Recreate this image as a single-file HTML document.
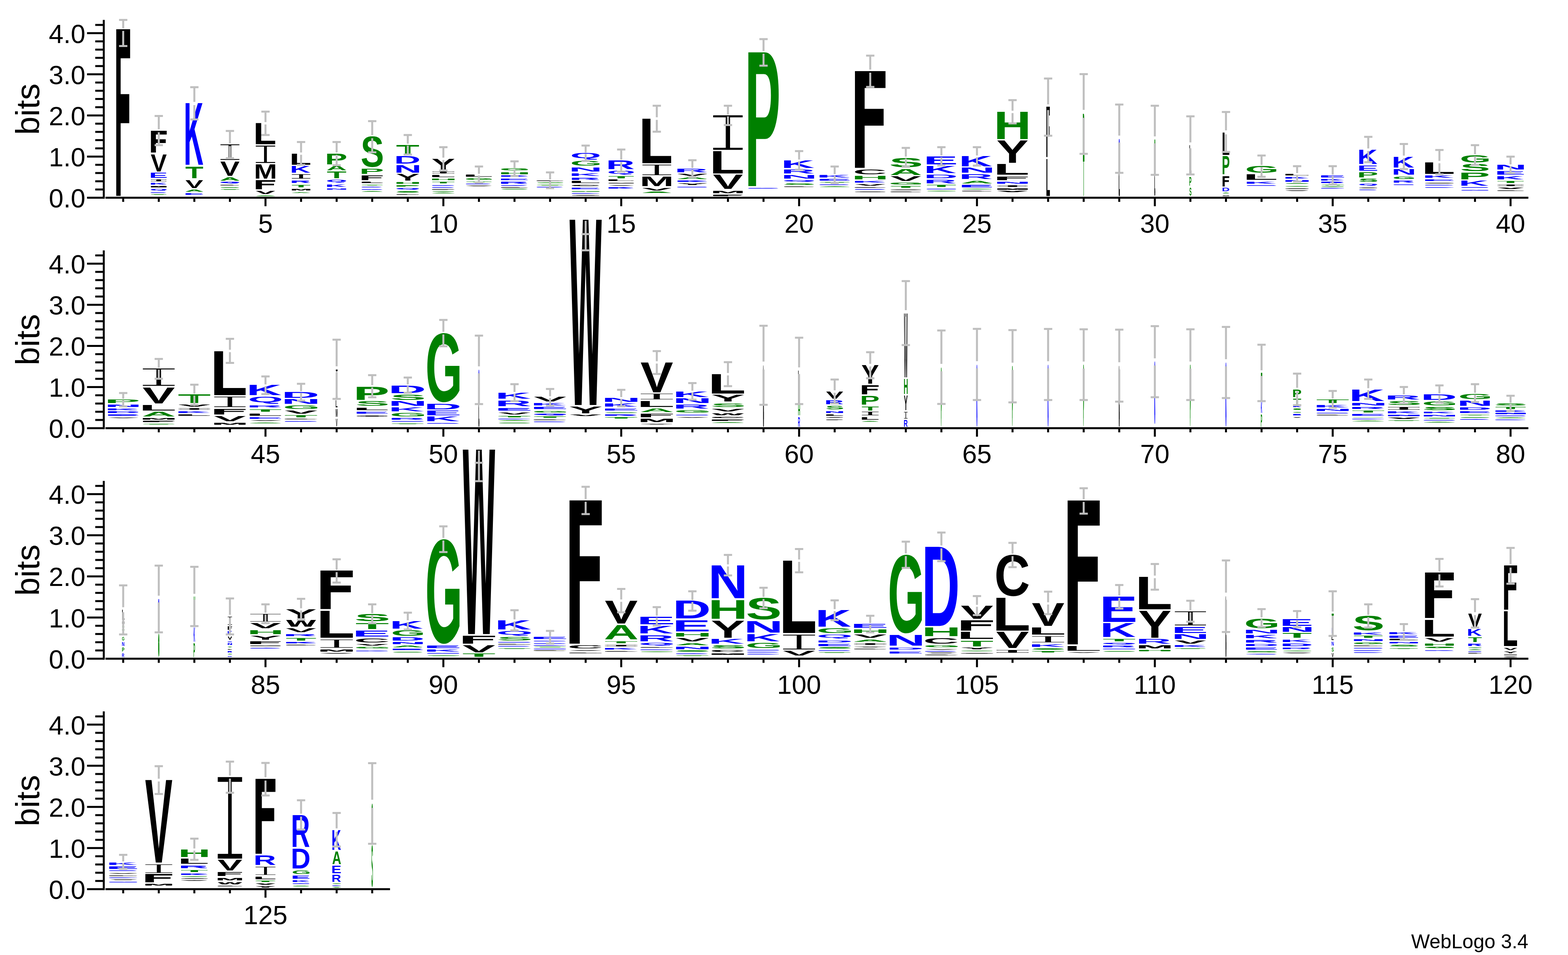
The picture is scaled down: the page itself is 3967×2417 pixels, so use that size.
<!DOCTYPE html>
<html lang="en"><head><meta charset="utf-8"><title>WebLogo 3.4</title>
<style>html,body{margin:0;padding:0;background:#fff}body{width:3967px;height:2417px;overflow:hidden}svg{display:block}text{font-family:"Liberation Sans",sans-serif}.s{font-weight:bold;font-size:100px}.i{font-family:"Liberation Mono",monospace;font-size:100px}.f{font-family:"DejaVu Sans Mono",monospace;font-weight:bold;font-size:100px}.w{font-family:"DejaVu Sans",sans-serif;font-weight:bold;font-size:100px}.b{fill:#00f}.g{fill:#008000}.k{fill:#000}.n{font-size:66.67px;fill:#000}.yl{font-size:83.33px;fill:#000}.fp{font-size:50px;fill:#000}.ax{fill:#000}.e{fill:#bfbfbf}</style></head><body>
<svg xmlns="http://www.w3.org/2000/svg" width="3967" height="2417" viewBox="0 0 3967 2417">
<rect width="3967" height="2417" fill="#fff"/>
<g><text class="i k" transform="matrix(0.9118 0 0 0.06898 374.35 458.71)" stroke="#000" stroke-width="3.62" stroke-linejoin="round">I</text>
<text class="i k" transform="matrix(1.3258 0 0 0.62058 541.95 405.95)" stroke="#fff" stroke-width="4.00">I</text>
<text class="i k" transform="matrix(1.3567 0 0 0.70506 631.02 414.14)" stroke="#fff" stroke-width="4.00">I</text>
<text class="i k" transform="matrix(1.1924 0 0 0.17186 725.95 452.40)" stroke="#fff" stroke-width="1.05">I</text>
<text class="i k" transform="matrix(1.2911 0 0 0.06898 1082.99 438.74)" stroke="#000" stroke-width="3.62" stroke-linejoin="round">I</text>
<text class="i k" transform="matrix(0.7483 0 0 0.00941 1459.25 494.86)" stroke="#000" stroke-width="53.12" stroke-linejoin="round">I</text>
<text class="i k" transform="matrix(2.0119 0 0 0.42144 1601.40 443.82)" stroke="#fff" stroke-width="4.00">I</text>
<text class="i k" transform="matrix(2.0635 0 0 1.40505 1779.85 381.94)" stroke="#fff" stroke-width="4.00">I</text>
<text class="i k" transform="matrix(0.8283 0 0 0.00941 2176.85 485.72)" stroke="#000" stroke-width="53.12" stroke-linejoin="round">I</text>
<text class="i k" transform="matrix(1.1079 0 0 0.01701 2258.48 480.62)" stroke="#000" stroke-width="29.40" stroke-linejoin="round">I</text>
<text class="i k" transform="matrix(1.7229 0 0 0.05481 2510.05 472.72)" stroke="#000" stroke-width="4.56" stroke-linejoin="round">I</text>
<text class="i k" transform="matrix(0.9448 0 0 0.02267 3253.36 477.82)" stroke="#000" stroke-width="22.05" stroke-linejoin="round">I</text>
<text class="i k" transform="matrix(0.4583 0 0 0.00850 3447.94 475.58)" stroke="#000" stroke-width="58.80" stroke-linejoin="round">I</text>
<text class="i k" transform="matrix(1.0991 0 0 0.01984 3608.74 463.63)" stroke="#000" stroke-width="25.20" stroke-linejoin="round">I</text>
<text class="i k" transform="matrix(1.4935 0 0 0.05481 3776.93 470.85)" stroke="#000" stroke-width="4.56" stroke-linejoin="round">I</text>
<text class="f k" transform="matrix(0.7731 0 0 5.78524 287.24 495.70)">F</text>
<text class="f k" transform="matrix(0.8797 0 0 0.75201 373.88 385.85)">F</text>
<text class="s k" transform="matrix(0.6115 0 0 0.63404 381.27 433.64)">V</text>
<text class="s b" transform="matrix(0.7120 0 0 0.17549 376.93 449.88)">E</text>
<text class="s b" transform="matrix(0.5796 0 0 0.05790 379.07 467.11)" stroke="#00f" stroke-width="4.32" stroke-linejoin="round">K</text>
<text class="s k" transform="matrix(0.4522 0 0 0.02713 382.83 473.52)" stroke="#000" stroke-width="18.43" stroke-linejoin="round">M</text>
<text class="s b" transform="matrix(0.5369 0 0 0.05077 380.81 481.61)" stroke="#00f" stroke-width="4.92" stroke-linejoin="round">Q</text>
<text class="s b" transform="matrix(0.3199 0 0 0.00814 389.37 487.71)" stroke="#00f" stroke-width="61.41" stroke-linejoin="round">R</text>
<text class="s g" transform="matrix(0.3493 0 0 0.00901 390.99 493.00)" stroke="#008000" stroke-width="55.48" stroke-linejoin="round">T</text>
<text class="s b" transform="matrix(0.6849 0 0 2.25659 464.96 417.21)">K</text>
<text class="s g" transform="matrix(0.7513 0 0 0.43054 468.70 451.00)">T</text>
<text class="s k" transform="matrix(0.6772 0 0 0.29759 469.08 475.64)">V</text>
<text class="s g" transform="matrix(0.6299 0 0 0.07961 468.97 485.41)" stroke="#008000" stroke-width="3.14" stroke-linejoin="round">A</text>
<text class="s b" transform="matrix(0.7178 0 0 0.04521 466.73 492.94)" stroke="#00f" stroke-width="5.53" stroke-linejoin="round">E</text>
<text class="s k" transform="matrix(0.7343 0 0 0.52280 557.18 444.84)">V</text>
<text class="s g" transform="matrix(0.6921 0 0 0.11217 556.73 456.85)" stroke="#008000" stroke-width="2.23" stroke-linejoin="round">A</text>
<text class="s b" transform="matrix(0.5456 0 0 0.02712 560.47 463.28)" stroke="#00f" stroke-width="18.44" stroke-linejoin="round">Q</text>
<text class="s k" transform="matrix(0.3994 0 0 0.00727 568.75 468.98)" stroke="#000" stroke-width="68.80" stroke-linejoin="round">L</text>
<text class="s g" transform="matrix(0.5514 0 0 0.01846 563.56 474.81)" stroke="#008000" stroke-width="27.09" stroke-linejoin="round">S</text>
<text class="s g" transform="matrix(0.3757 0 0 0.00727 570.18 480.00)" stroke="#008000" stroke-width="68.80" stroke-linejoin="round">T</text>
<text class="s k" transform="matrix(0.9567 0 0 0.76971 640.72 364.94)">L</text>
<text class="s k" transform="matrix(0.7021 0 0 0.50923 642.42 451.93)">M</text>
<text class="f k" transform="matrix(1.0811 0 0 0.31414 637.51 479.00)">F</text>
<text class="s k" transform="matrix(0.7261 0 0 0.10945 647.45 490.82)" stroke="#000" stroke-width="2.28" stroke-linejoin="round">V</text>
<text class="s g" transform="matrix(0.3613 0 0 0.00727 658.65 495.86)" stroke="#008000" stroke-width="68.80" stroke-linejoin="round">A</text>
<text class="s k" transform="matrix(0.9094 0 0 0.40612 732.25 416.84)">L</text>
<text class="s b" transform="matrix(0.7224 0 0 0.23247 733.50 437.00)">K</text>
<text class="s b" transform="matrix(0.7045 0 0 0.09046 734.59 462.82)" stroke="#00f" stroke-width="2.76" stroke-linejoin="round">R</text>
<text class="s g" transform="matrix(0.7598 0 0 0.09860 738.44 474.02)" stroke="#008000" stroke-width="2.54" stroke-linejoin="round">T</text>
<text class="s k" transform="matrix(0.6249 0 0 0.05247 735.64 482.05)" stroke="#000" stroke-width="4.76" stroke-linejoin="round">M</text>
<text class="s g" transform="matrix(0.5058 0 0 0.01987 743.44 487.96)" stroke="#008000" stroke-width="25.17" stroke-linejoin="round">A</text>
<text class="s g" transform="matrix(0.8510 0 0 0.39256 821.89 415.91)">P</text>
<text class="s g" transform="matrix(0.7179 0 0 0.15650 825.80 430.84)">A</text>
<text class="s g" transform="matrix(0.8179 0 0 0.23247 826.67 451.00)">T</text>
<text class="s b" transform="matrix(0.6609 0 0 0.07371 826.00 460.44)" stroke="#00f" stroke-width="3.39" stroke-linejoin="round">Q</text>
<text class="s b" transform="matrix(0.7158 0 0 0.09317 823.76 472.72)" stroke="#00f" stroke-width="2.68" stroke-linejoin="round">K</text>
<text class="s b" transform="matrix(0.7447 0 0 0.04249 824.80 480.06)" stroke="#00f" stroke-width="5.88" stroke-linejoin="round">N</text>
<text class="s g" transform="matrix(0.8849 0 0 1.08542 912.61 421.75)">S</text>
<text class="s g" transform="matrix(0.9368 0 0 0.19177 908.89 440.17)">P</text>
<text class="f k" transform="matrix(1.1675 0 0 0.16050 904.78 456.04)">F</text>
<text class="s k" transform="matrix(0.8095 0 0 0.03527 915.48 462.88)" stroke="#000" stroke-width="14.17" stroke-linejoin="round">L</text>
<text class="s g" transform="matrix(0.6222 0 0 0.01899 922.65 468.86)" stroke="#008000" stroke-width="26.32" stroke-linejoin="round">T</text>
<text class="s b" transform="matrix(0.3974 0 0 0.00727 926.17 474.02)" stroke="#00f" stroke-width="68.80" stroke-linejoin="round">K</text>
<text class="s b" transform="matrix(0.5904 0 0 0.01899 918.98 479.87)" stroke="#00f" stroke-width="26.32" stroke-linejoin="round">R</text>
<text class="s g" transform="matrix(0.3901 0 0 0.00727 927.61 485.04)" stroke="#008000" stroke-width="68.80" stroke-linejoin="round">A</text>
<text class="s g" transform="matrix(0.9669 0 0 0.35728 1002.11 390.70)">T</text>
<text class="s b" transform="matrix(0.9284 0 0 0.27860 996.99 414.04)">D</text>
<text class="s b" transform="matrix(0.9685 0 0 0.27317 996.72 437.00)">N</text>
<text class="s k" transform="matrix(0.8983 0 0 0.22976 1001.66 456.97)">Y</text>
<text class="s g" transform="matrix(0.8922 0 0 0.04976 999.47 464.69)" stroke="#008000" stroke-width="5.02" stroke-linejoin="round">H</text>
<text class="s g" transform="matrix(0.8045 0 0 0.03527 1003.52 471.66)" stroke="#008000" stroke-width="14.17" stroke-linejoin="round">P</text>
<text class="s b" transform="matrix(0.7490 0 0 0.03825 1002.57 478.87)" stroke="#00f" stroke-width="6.54" stroke-linejoin="round">Q</text>
<text class="s g" transform="matrix(0.7642 0 0 0.03428 1006.57 486.56)" stroke="#008000" stroke-width="14.59" stroke-linejoin="round">S</text>
<text class="s k" transform="matrix(0.8009 0 0 0.02529 1005.76 493.00)" stroke="#000" stroke-width="19.77" stroke-linejoin="round">L</text>
<text class="s k" transform="matrix(0.8924 0 0 0.40612 1091.86 429.91)">Y</text>
<text class="s k" transform="matrix(1.0292 0 0 0.06875 1088.37 447.89)" stroke="#000" stroke-width="3.64" stroke-linejoin="round">L</text>
<text class="s g" transform="matrix(0.8900 0 0 0.05247 1089.55 455.91)" stroke="#008000" stroke-width="4.76" stroke-linejoin="round">H</text>
<text class="s g" transform="matrix(0.8886 0 0 0.05247 1094.50 463.94)" stroke="#008000" stroke-width="4.76" stroke-linejoin="round">T</text>
<text class="s b" transform="matrix(0.6221 0 0 0.01899 1097.41 469.79)" stroke="#00f" stroke-width="26.32" stroke-linejoin="round">K</text>
<text class="s b" transform="matrix(0.4276 0 0 0.00727 1105.23 474.96)" stroke="#00f" stroke-width="68.80" stroke-linejoin="round">R</text>
<text class="f k" transform="matrix(0.5119 0 0 0.00768 1105.49 480.06)" stroke="#000" stroke-width="65.07" stroke-linejoin="round">F</text>
<text class="s g" transform="matrix(0.4327 0 0 0.00706 1107.46 485.22)" stroke="#008000" stroke-width="70.80" stroke-linejoin="round">S</text>
<text class="s g" transform="matrix(0.4615 0 0 0.00901 1105.04 489.45)" stroke="#008000" stroke-width="55.48" stroke-linejoin="round">A</text>
<text class="s k" transform="matrix(1.1857 0 0 0.06604 1173.31 446.58)" stroke="#000" stroke-width="3.79" stroke-linejoin="round">L</text>
<text class="s g" transform="matrix(0.9026 0 0 0.05099 1177.51 454.56)" stroke="#008000" stroke-width="4.90" stroke-linejoin="round">G</text>
<text class="s g" transform="matrix(0.7976 0 0 0.02171 1187.29 460.64)" stroke="#008000" stroke-width="23.03" stroke-linejoin="round">T</text>
<text class="s b" transform="matrix(0.4898 0 0 0.00727 1192.57 465.81)" stroke="#00f" stroke-width="68.80" stroke-linejoin="round">K</text>
<text class="s k" transform="matrix(0.5408 0 0 0.00901 1193.63 470.78)" stroke="#000" stroke-width="55.48" stroke-linejoin="round">V</text>
<text class="s g" transform="matrix(0.9467 0 0 0.06417 1265.84 431.21)" stroke="#008000" stroke-width="3.90" stroke-linejoin="round">G</text>
<text class="s g" transform="matrix(1.0849 0 0 0.07147 1262.52 440.61)" stroke="#008000" stroke-width="3.50" stroke-linejoin="round">H</text>
<text class="s b" transform="matrix(0.8452 0 0 0.03256 1268.71 447.39)" stroke="#00f" stroke-width="15.36" stroke-linejoin="round">K</text>
<text class="s b" transform="matrix(1.1102 0 0 0.05247 1263.10 455.54)" stroke="#00f" stroke-width="4.76" stroke-linejoin="round">E</text>
<text class="s b" transform="matrix(1.0047 0 0 0.06604 1263.06 464.50)" stroke="#00f" stroke-width="3.79" stroke-linejoin="round">R</text>
<text class="s b" transform="matrix(0.5066 0 0 0.00727 1281.92 469.54)" stroke="#00f" stroke-width="68.80" stroke-linejoin="round">K</text>
<text class="s k" transform="matrix(0.5626 0 0 0.00727 1283.47 474.58)" stroke="#000" stroke-width="68.80" stroke-linejoin="round">L</text>
<text class="s g" transform="matrix(0.8171 0 0 0.02194 1274.84 478.79)" stroke="#008000" stroke-width="22.79" stroke-linejoin="round">S</text>
<text class="s k" transform="matrix(0.8704 0 0 0.01899 1363.51 457.66)" stroke="#000" stroke-width="26.32" stroke-linejoin="round">L</text>
<text class="s g" transform="matrix(0.7384 0 0 0.01582 1367.42 463.43)" stroke="#008000" stroke-width="31.60" stroke-linejoin="round">S</text>
<text class="s g" transform="matrix(0.5292 0 0 0.00727 1375.49 468.61)" stroke="#008000" stroke-width="68.80" stroke-linejoin="round">T</text>
<text class="s b" transform="matrix(0.5628 0 0 0.00901 1369.73 473.77)" stroke="#00f" stroke-width="55.48" stroke-linejoin="round">K</text>
<text class="s b" transform="matrix(1.0048 0 0 0.17870 1442.64 400.26)">Q</text>
<text class="s g" transform="matrix(1.0346 0 0 0.16526 1442.52 419.48)">G</text>
<text class="s b" transform="matrix(1.1876 0 0 0.14293 1438.81 433.64)">N</text>
<text class="s b" transform="matrix(1.0399 0 0 0.09860 1441.12 444.71)" stroke="#00f" stroke-width="2.54" stroke-linejoin="round">K</text>
<text class="s b" transform="matrix(1.0480 0 0 0.07961 1441.39 454.61)" stroke="#00f" stroke-width="3.14" stroke-linejoin="round">R</text>
<text class="s k" transform="matrix(1.2633 0 0 0.06333 1440.80 463.38)" stroke="#000" stroke-width="3.95" stroke-linejoin="round">L</text>
<text class="s k" transform="matrix(0.9808 0 0 0.04308 1445.58 470.81)" stroke="#000" stroke-width="5.80" stroke-linejoin="round">C</text>
<text class="s b" transform="matrix(1.1421 0 0 0.04976 1441.99 478.69)" stroke="#00f" stroke-width="5.02" stroke-linejoin="round">E</text>
<text class="s g" transform="matrix(0.8203 0 0 0.01899 1452.07 484.54)" stroke="#008000" stroke-width="26.32" stroke-linejoin="round">H</text>
<text class="s b" transform="matrix(0.5365 0 0 0.00727 1461.63 489.70)" stroke="#00f" stroke-width="68.80" stroke-linejoin="round">D</text>
<text class="s b" transform="matrix(1.0087 0 0 0.30573 1532.90 428.04)">R</text>
<text class="s b" transform="matrix(0.9215 0 0 0.10570 1535.87 439.59)">Q</text>
<text class="s g" transform="matrix(1.0263 0 0 0.07147 1540.29 450.87)" stroke="#008000" stroke-width="3.50" stroke-linejoin="round">T</text>
<text class="s k" transform="matrix(1.1241 0 0 0.04434 1535.30 458.34)" stroke="#000" stroke-width="5.64" stroke-linejoin="round">L</text>
<text class="s k" transform="matrix(0.6653 0 0 0.01899 1543.96 464.19)" stroke="#000" stroke-width="26.32" stroke-linejoin="round">M</text>
<text class="s k" transform="matrix(0.7246 0 0 0.02171 1547.50 470.35)" stroke="#000" stroke-width="23.03" stroke-linejoin="round">V</text>
<text class="s b" transform="matrix(0.7917 0 0 0.03072 1540.80 477.13)" stroke="#00f" stroke-width="16.28" stroke-linejoin="round">K</text>
<text class="s k" transform="matrix(1.4186 0 0 1.63796 1615.78 412.73)">L</text>
<text class="s k" transform="matrix(1.0412 0 0 0.34643 1618.30 470.97)">M</text>
<text class="s k" transform="matrix(1.0704 0 0 0.09317 1625.97 481.68)" stroke="#000" stroke-width="2.68" stroke-linejoin="round">V</text>
<text class="s g" transform="matrix(0.8733 0 0 0.03072 1630.20 488.33)" stroke="#008000" stroke-width="16.28" stroke-linejoin="round">A</text>
<text class="s b" transform="matrix(1.1851 0 0 0.12665 1706.12 435.88)">R</text>
<text class="s k" transform="matrix(1.0950 0 0 0.07418 1715.15 445.27)" stroke="#000" stroke-width="3.37" stroke-linejoin="round">V</text>
<text class="s g" transform="matrix(1.0344 0 0 0.04434 1714.39 452.74)" stroke="#008000" stroke-width="5.64" stroke-linejoin="round">A</text>
<text class="s b" transform="matrix(0.9409 0 0 0.03256 1714.98 459.52)" stroke="#00f" stroke-width="15.36" stroke-linejoin="round">K</text>
<text class="s k" transform="matrix(1.1040 0 0 0.05247 1714.80 467.67)" stroke="#000" stroke-width="4.76" stroke-linejoin="round">Y</text>
<text class="s b" transform="matrix(0.9256 0 0 0.01987 1719.51 473.58)" stroke="#00f" stroke-width="25.17" stroke-linejoin="round">E</text>
<text class="s k" transform="matrix(1.4550 0 0 0.80769 1794.60 438.87)">L</text>
<text class="s k" transform="matrix(1.1429 0 0 0.50923 1803.55 478.07)">V</text>
<text class="s k" transform="matrix(1.0295 0 0 0.09589 1798.79 488.96)" stroke="#000" stroke-width="2.61" stroke-linejoin="round">M</text>
<text class="f k" transform="matrix(1.1917 0 0 0.02899 1804.02 495.61)" stroke="#000" stroke-width="17.25" stroke-linejoin="round">F</text>
<text class="s g" transform="matrix(1.3557 0 0 4.91834 1884.24 470.97)">P</text>
<text class="s b" transform="matrix(0.8547 0 0 0.01987 1898.34 476.76)" stroke="#00f" stroke-width="25.17" stroke-linejoin="round">K</text>
<text class="s b" transform="matrix(1.1732 0 0 0.27860 1975.92 425.24)">K</text>
<text class="s b" transform="matrix(1.1940 0 0 0.13751 1975.79 438.87)">R</text>
<text class="s b" transform="matrix(1.2892 0 0 0.12937 1975.15 451.93)">N</text>
<text class="s b" transform="matrix(0.9970 0 0 0.03825 1982.94 458.90)" stroke="#00f" stroke-width="6.54" stroke-linejoin="round">Q</text>
<text class="s g" transform="matrix(1.1693 0 0 0.05099 1983.27 467.63)" stroke="#008000" stroke-width="4.90" stroke-linejoin="round">S</text>
<text class="s k" transform="matrix(0.7096 0 0 0.00901 1998.71 472.84)" stroke="#000" stroke-width="55.48" stroke-linejoin="round">L</text>
<text class="s b" transform="matrix(1.1277 0 0 0.08503 2067.70 448.82)" stroke="#00f" stroke-width="2.94" stroke-linejoin="round">K</text>
<text class="s b" transform="matrix(1.2513 0 0 0.05247 2068.20 456.85)" stroke="#00f" stroke-width="4.76" stroke-linejoin="round">E</text>
<text class="s g" transform="matrix(0.6331 0 0 0.00814 2092.31 461.95)" stroke="#008000" stroke-width="61.41" stroke-linejoin="round">T</text>
<text class="s b" transform="matrix(0.7591 0 0 0.01357 2082.49 467.55)" stroke="#00f" stroke-width="36.85" stroke-linejoin="round">R</text>
<text class="s g" transform="matrix(0.6214 0 0 0.00901 2089.28 472.84)" stroke="#008000" stroke-width="55.48" stroke-linejoin="round">A</text>
<text class="f k" transform="matrix(1.7019 0 0 3.35618 2147.90 424.68)">F</text>
<text class="s k" transform="matrix(1.1820 0 0 0.17317 2158.18 440.94)">C</text>
<text class="s g" transform="matrix(1.3146 0 0 0.12937 2154.23 454.17)">H</text>
<text class="s b" transform="matrix(1.1100 0 0 0.04976 2158.39 461.89)" stroke="#00f" stroke-width="5.02" stroke-linejoin="round">K</text>
<text class="s k" transform="matrix(1.0939 0 0 0.04705 2165.18 469.54)" stroke="#000" stroke-width="5.31" stroke-linejoin="round">V</text>
<text class="s k" transform="matrix(0.6855 0 0 0.00814 2179.49 474.64)" stroke="#000" stroke-width="61.41" stroke-linejoin="round">L</text>
<text class="s b" transform="matrix(0.8205 0 0 0.01628 2170.14 480.43)" stroke="#00f" stroke-width="30.71" stroke-linejoin="round">R</text>
<text class="s g" transform="matrix(1.2868 0 0 0.33927 2249.41 422.67)">S</text>
<text class="s g" transform="matrix(1.1491 0 0 0.22976 2250.26 442.97)">A</text>
<text class="s k" transform="matrix(1.1801 0 0 0.15650 2252.31 457.91)">V</text>
<text class="s g" transform="matrix(1.0846 0 0 0.06945 2250.62 467.05)" stroke="#008000" stroke-width="3.60" stroke-linejoin="round">G</text>
<text class="s g" transform="matrix(1.2063 0 0 0.04976 2254.79 474.96)" stroke="#008000" stroke-width="5.02" stroke-linejoin="round">T</text>
<text class="s k" transform="matrix(0.6418 0 0 0.00727 2270.90 485.78)" stroke="#000" stroke-width="68.80" stroke-linejoin="round">L</text>
<text class="s b" transform="matrix(1.3143 0 0 0.29217 2336.01 415.91)">E</text>
<text class="s b" transform="matrix(1.1414 0 0 0.25689 2337.16 437.75)">K</text>
<text class="s b" transform="matrix(1.2023 0 0 0.13208 2336.76 451.00)">D</text>
<text class="s b" transform="matrix(1.1616 0 0 0.12937 2337.03 464.07)">R</text>
<text class="s g" transform="matrix(1.1735 0 0 0.06333 2345.80 472.72)" stroke="#008000" stroke-width="3.95" stroke-linejoin="round">T</text>
<text class="s b" transform="matrix(0.9012 0 0 0.02171 2349.15 478.75)" stroke="#00f" stroke-width="23.03" stroke-linejoin="round">N</text>
<text class="s g" transform="matrix(0.6302 0 0 0.00876 2360.97 484.03)" stroke="#008000" stroke-width="57.09" stroke-linejoin="round">S</text>
<text class="s b" transform="matrix(1.1761 0 0 0.36542 2425.81 420.95)">K</text>
<text class="s b" transform="matrix(1.2923 0 0 0.17821 2425.03 437.37)">N</text>
<text class="s b" transform="matrix(1.1969 0 0 0.16464 2425.67 452.87)">R</text>
<text class="s g" transform="matrix(1.0901 0 0 0.09589 2432.39 463.75)" stroke="#008000" stroke-width="2.61" stroke-linejoin="round">A</text>
<text class="s b" transform="matrix(1.2847 0 0 0.08232 2427.04 473.84)" stroke="#00f" stroke-width="3.04" stroke-linejoin="round">E</text>
<text class="s g" transform="matrix(0.5812 0 0 0.00706 2452.58 478.87)" stroke="#008000" stroke-width="70.80" stroke-linejoin="round">S</text>
<text class="s k" transform="matrix(0.7114 0 0 0.00901 2448.65 484.04)" stroke="#000" stroke-width="55.48" stroke-linejoin="round">L</text>
<text class="s g" transform="matrix(1.3114 0 0 1.00034 2514.35 352.06)">H</text>
<text class="s k" transform="matrix(1.2164 0 0 0.80769 2521.04 411.80)">Y</text>
<text class="s k" transform="matrix(1.5023 0 0 0.37899 2513.07 442.04)">L</text>
<text class="f k" transform="matrix(1.6978 0 0 0.12977 2508.03 455.67)">F</text>
<text class="s b" transform="matrix(1.2350 0 0 0.06875 2517.10 464.69)" stroke="#00f" stroke-width="3.64" stroke-linejoin="round">N</text>
<text class="s k" transform="matrix(0.9168 0 0 0.03527 2523.48 479.68)" stroke="#000" stroke-width="14.17" stroke-linejoin="round">M</text>
<text class="s k" transform="matrix(0.9447 0 0 0.03072 2530.16 486.46)" stroke="#000" stroke-width="16.28" stroke-linejoin="round">V</text>
<text class="f k" transform="matrix(0.1932 0 0 1.74041 2645.56 398.17)">F</text>
<text class="s k" transform="matrix(0.1710 0 0 1.35665 2646.14 495.67)">L</text>
<text class="s g" transform="matrix(0.0660 0 0 1.45074 2739.36 387.90)">P</text>
<text class="s g" transform="matrix(0.0634 0 0 1.50588 2739.73 495.67)">T</text>
<text class="s b" transform="matrix(0.0312 0 0 0.94487 2830.45 426.04)" stroke="#00f" stroke-width="19.25" stroke-linejoin="round">K</text>
<text class="s k" transform="matrix(0.0392 0 0 0.67040 2830.40 490.55)" stroke="#000" stroke-width="15.29" stroke-linejoin="round">L</text>
<text class="s g" transform="matrix(0.0238 0 0 0.91847 2920.94 428.58)" stroke="#008000" stroke-width="25.24" stroke-linejoin="round">T</text>
<text class="s k" transform="matrix(0.0273 0 0 0.56541 2920.78 489.46)" stroke="#000" stroke-width="21.99" stroke-linejoin="round">L</text>
<text class="s k" transform="matrix(0.0982 0 0 1.10615 3008.49 443.91)">L</text>
<text class="s g" transform="matrix(0.0891 0 0 0.31930 3008.55 470.04)">P</text>
<text class="s g" transform="matrix(0.0841 0 0 0.29530 3008.90 494.83)">S</text>
<text class="s k" transform="matrix(0.3310 0 0 0.82126 3090.96 391.64)">L</text>
<text class="s g" transform="matrix(0.3002 0 0 0.65846 3091.17 441.11)">P</text>
<text class="f k" transform="matrix(0.3741 0 0 0.36023 3089.85 471.53)">F</text>
<text class="s b" transform="matrix(0.2770 0 0 0.12123 3091.32 484.04)">D</text>
<text class="s g" transform="matrix(0.1634 0 0 0.01357 3095.78 489.39)" stroke="#008000" stroke-width="36.85" stroke-linejoin="round">A</text>
<text class="s k" transform="matrix(0.1845 0 0 0.02258 3093.98 495.61)" stroke="#000" stroke-width="22.14" stroke-linejoin="round">M</text>
<text class="s g" transform="matrix(1.1065 0 0 0.23908 3149.79 436.77)">G</text>
<text class="s k" transform="matrix(1.4550 0 0 0.19720 3144.60 454.73)">L</text>
<text class="s b" transform="matrix(1.1023 0 0 0.07961 3148.69 464.50)" stroke="#00f" stroke-width="3.14" stroke-linejoin="round">K</text>
<text class="s b" transform="matrix(0.6692 0 0 0.00901 3168.42 469.66)" stroke="#00f" stroke-width="55.48" stroke-linejoin="round">E</text>
<text class="s k" transform="matrix(1.0485 0 0 0.05247 3247.75 443.78)" stroke="#000" stroke-width="4.76" stroke-linejoin="round">L</text>
<text class="s b" transform="matrix(0.8446 0 0 0.04976 3248.74 451.62)" stroke="#00f" stroke-width="5.02" stroke-linejoin="round">K</text>
<text class="s b" transform="matrix(0.9252 0 0 0.05247 3248.28 459.65)" stroke="#00f" stroke-width="4.76" stroke-linejoin="round">N</text>
<text class="s g" transform="matrix(0.6759 0 0 0.01846 3259.47 465.48)" stroke="#008000" stroke-width="27.09" stroke-linejoin="round">S</text>
<text class="s g" transform="matrix(0.6449 0 0 0.02109 3257.26 471.64)" stroke="#008000" stroke-width="23.70" stroke-linejoin="round">G</text>
<text class="s k" transform="matrix(0.4384 0 0 0.00727 3267.05 482.98)" stroke="#000" stroke-width="68.80" stroke-linejoin="round">V</text>
<text class="s b" transform="matrix(0.9749 0 0 0.06875 3337.80 448.82)" stroke="#00f" stroke-width="3.64" stroke-linejoin="round">E</text>
<text class="s b" transform="matrix(0.8397 0 0 0.05247 3338.93 456.85)" stroke="#00f" stroke-width="4.76" stroke-linejoin="round">K</text>
<text class="s b" transform="matrix(0.7259 0 0 0.02985 3343.77 463.44)" stroke="#00f" stroke-width="16.75" stroke-linejoin="round">R</text>
<text class="s g" transform="matrix(0.4561 0 0 0.00727 3357.72 468.61)" stroke="#008000" stroke-width="68.80" stroke-linejoin="round">T</text>
<text class="s g" transform="matrix(0.4456 0 0 0.00706 3357.04 473.08)" stroke="#008000" stroke-width="70.80" stroke-linejoin="round">S</text>
<text class="s b" transform="matrix(0.4476 0 0 0.00727 3354.95 476.82)" stroke="#00f" stroke-width="68.80" stroke-linejoin="round">D</text>
<text class="s b" transform="matrix(0.7022 0 0 0.52280 3434.29 414.97)">K</text>
<text class="s b" transform="matrix(0.8085 0 0 0.18363 3433.58 431.77)">E</text>
<text class="s g" transform="matrix(0.8016 0 0 0.18363 3433.62 448.57)">P</text>
<text class="s g" transform="matrix(0.7292 0 0 0.10900 3437.72 460.47)" stroke="#008000" stroke-width="2.29" stroke-linejoin="round">S</text>
<text class="s b" transform="matrix(0.6166 0 0 0.06119 3437.72 469.27)" stroke="#00f" stroke-width="4.09" stroke-linejoin="round">Q</text>
<text class="s b" transform="matrix(0.3813 0 0 0.00901 3447.01 480.86)" stroke="#00f" stroke-width="55.48" stroke-linejoin="round">R</text>
<text class="s b" transform="matrix(0.7889 0 0 0.38984 3520.91 423.93)">K</text>
<text class="s b" transform="matrix(0.8669 0 0 0.19720 3520.39 441.67)">N</text>
<text class="s g" transform="matrix(0.7271 0 0 0.09581 3524.15 452.65)" stroke="#008000" stroke-width="2.61" stroke-linejoin="round">G</text>
<text class="s b" transform="matrix(0.7593 0 0 0.06875 3522.49 461.89)" stroke="#00f" stroke-width="3.64" stroke-linejoin="round">R</text>
<text class="s b" transform="matrix(0.6270 0 0 0.01987 3529.88 467.80)" stroke="#00f" stroke-width="25.17" stroke-linejoin="round">E</text>
<text class="s k" transform="matrix(1.4004 0 0 0.43054 3596.36 439.80)">L</text>
<text class="s b" transform="matrix(1.0641 0 0 0.08503 3600.18 449.94)" stroke="#00f" stroke-width="2.94" stroke-linejoin="round">K</text>
<text class="s b" transform="matrix(1.1757 0 0 0.04976 3600.82 457.78)" stroke="#00f" stroke-width="5.02" stroke-linejoin="round">E</text>
<text class="s b" transform="matrix(0.7630 0 0 0.01628 3612.34 469.42)" stroke="#00f" stroke-width="30.71" stroke-linejoin="round">R</text>
<text class="s b" transform="matrix(0.6153 0 0 0.00901 3618.68 474.70)" stroke="#00f" stroke-width="55.48" stroke-linejoin="round">D</text>
<text class="s g" transform="matrix(1.0152 0 0 0.25227 3693.25 410.62)">G</text>
<text class="s g" transform="matrix(1.1435 0 0 0.25490 3694.12 432.83)">S</text>
<text class="s g" transform="matrix(1.2106 0 0 0.24061 3689.31 453.80)">P</text>
<text class="s b" transform="matrix(1.0605 0 0 0.17549 3690.32 470.04)">K</text>
<text class="s b" transform="matrix(0.7370 0 0 0.01357 3706.06 475.39)" stroke="#00f" stroke-width="36.85" stroke-linejoin="round">E</text>
<text class="s b" transform="matrix(0.8721 0 0 0.02529 3700.20 481.80)" stroke="#00f" stroke-width="19.77" stroke-linejoin="round">N</text>
<text class="s b" transform="matrix(1.1367 0 0 0.15650 3780.65 428.97)">N</text>
<text class="s b" transform="matrix(1.1912 0 0 0.12937 3780.28 442.04)">E</text>
<text class="s b" transform="matrix(1.0000 0 0 0.11217 3782.68 454.05)" stroke="#00f" stroke-width="2.23" stroke-linejoin="round">K</text>
<text class="s g" transform="matrix(1.0636 0 0 0.06333 3789.16 462.82)" stroke="#008000" stroke-width="3.95" stroke-linejoin="round">T</text>
<text class="s k" transform="matrix(0.8405 0 0 0.03527 3793.63 477.82)" stroke="#000" stroke-width="14.17" stroke-linejoin="round">V</text>
<text class="s k" transform="matrix(0.6257 0 0 0.00901 3801.42 483.10)" stroke="#000" stroke-width="55.48" stroke-linejoin="round">L</text>
<rect class="e" x="309.2" y="50.4" width="5.0" height="21.2"/>
<rect class="e" x="309.2" y="78.2" width="5.0" height="38.3"/>
<rect class="e" x="301.2" y="47.9" width="21.0" height="5.0"/>
<rect class="e" x="301.2" y="114.0" width="21.0" height="5.0"/>
<rect class="e" x="399.2" y="293.5" width="5.0" height="33.8"/>
<rect class="e" x="399.2" y="334.7" width="5.0" height="32.8"/>
<rect class="e" x="391.2" y="291.0" width="21.0" height="5.0"/>
<rect class="e" x="391.2" y="364.9" width="21.0" height="5.0"/>
<rect class="e" x="489.2" y="220.7" width="5.0" height="37.2"/>
<rect class="e" x="489.2" y="266.0" width="5.0" height="36.3"/>
<rect class="e" x="481.2" y="218.2" width="21.0" height="5.0"/>
<rect class="e" x="481.2" y="299.8" width="21.0" height="5.0"/>
<rect class="e" x="579.2" y="331.4" width="5.0" height="31.4"/>
<rect class="e" x="579.2" y="369.7" width="5.0" height="30.7"/>
<rect class="e" x="571.2" y="328.9" width="21.0" height="5.0"/>
<rect class="e" x="571.2" y="398.0" width="21.0" height="5.0"/>
<rect class="e" x="669.2" y="282.5" width="5.0" height="26.5"/>
<rect class="e" x="669.2" y="315.0" width="5.0" height="26.7"/>
<rect class="e" x="661.2" y="280.0" width="21.0" height="5.0"/>
<rect class="e" x="661.2" y="339.2" width="21.0" height="5.0"/>
<rect class="e" x="759.2" y="359.4" width="5.0" height="26.5"/>
<rect class="e" x="759.2" y="391.7" width="5.0" height="25.5"/>
<rect class="e" x="751.2" y="356.9" width="21.0" height="5.0"/>
<rect class="e" x="751.2" y="414.8" width="21.0" height="5.0"/>
<rect class="e" x="849.2" y="359.4" width="5.0" height="26.5"/>
<rect class="e" x="849.2" y="391.8" width="5.0" height="26.4"/>
<rect class="e" x="841.2" y="356.9" width="21.0" height="5.0"/>
<rect class="e" x="841.2" y="415.7" width="21.0" height="5.0"/>
<rect class="e" x="939.2" y="306.6" width="5.0" height="35.4"/>
<rect class="e" x="939.2" y="349.9" width="5.0" height="35.6"/>
<rect class="e" x="931.2" y="304.1" width="21.0" height="5.0"/>
<rect class="e" x="931.2" y="383.0" width="21.0" height="5.0"/>
<rect class="e" x="1029.2" y="341.7" width="5.0" height="22.0"/>
<rect class="e" x="1029.2" y="368.6" width="5.0" height="22.5"/>
<rect class="e" x="1021.2" y="339.2" width="21.0" height="5.0"/>
<rect class="e" x="1021.2" y="388.6" width="21.0" height="5.0"/>
<rect class="e" x="1119.2" y="372.5" width="5.0" height="26.5"/>
<rect class="e" x="1119.2" y="404.9" width="5.0" height="26.4"/>
<rect class="e" x="1111.2" y="370.0" width="21.0" height="5.0"/>
<rect class="e" x="1111.2" y="428.8" width="21.0" height="5.0"/>
<rect class="e" x="1209.2" y="421.4" width="5.0" height="18.5"/>
<rect class="e" x="1209.2" y="444.0" width="5.0" height="18.5"/>
<rect class="e" x="1201.2" y="418.9" width="21.0" height="5.0"/>
<rect class="e" x="1201.2" y="459.9" width="21.0" height="5.0"/>
<rect class="e" x="1299.2" y="408.3" width="5.0" height="16.5"/>
<rect class="e" x="1299.2" y="428.5" width="5.0" height="16.8"/>
<rect class="e" x="1291.2" y="405.8" width="21.0" height="5.0"/>
<rect class="e" x="1291.2" y="442.8" width="21.0" height="5.0"/>
<rect class="e" x="1389.2" y="436.3" width="5.0" height="17.8"/>
<rect class="e" x="1389.2" y="458.1" width="5.0" height="18.1"/>
<rect class="e" x="1381.2" y="433.8" width="21.0" height="5.0"/>
<rect class="e" x="1381.2" y="473.8" width="21.0" height="5.0"/>
<rect class="e" x="1479.2" y="368.4" width="5.0" height="17.5"/>
<rect class="e" x="1479.2" y="389.7" width="5.0" height="17.6"/>
<rect class="e" x="1471.2" y="365.9" width="21.0" height="5.0"/>
<rect class="e" x="1471.2" y="404.9" width="21.0" height="5.0"/>
<rect class="e" x="1569.2" y="378.4" width="5.0" height="25.7"/>
<rect class="e" x="1569.2" y="409.7" width="5.0" height="24.7"/>
<rect class="e" x="1561.2" y="375.9" width="21.0" height="5.0"/>
<rect class="e" x="1561.2" y="431.9" width="21.0" height="5.0"/>
<rect class="e" x="1659.2" y="267.6" width="5.0" height="29.2"/>
<rect class="e" x="1659.2" y="303.4" width="5.0" height="29.9"/>
<rect class="e" x="1651.2" y="265.1" width="21.0" height="5.0"/>
<rect class="e" x="1651.2" y="330.8" width="21.0" height="5.0"/>
<rect class="e" x="1749.2" y="405.5" width="5.0" height="19.5"/>
<rect class="e" x="1749.2" y="429.3" width="5.0" height="19.2"/>
<rect class="e" x="1741.2" y="403.0" width="21.0" height="5.0"/>
<rect class="e" x="1741.2" y="445.9" width="21.0" height="5.0"/>
<rect class="e" x="1839.2" y="267.6" width="5.0" height="22.2"/>
<rect class="e" x="1839.2" y="294.6" width="5.0" height="21.8"/>
<rect class="e" x="1831.2" y="265.1" width="21.0" height="5.0"/>
<rect class="e" x="1831.2" y="314.0" width="21.0" height="5.0"/>
<rect class="e" x="1929.2" y="99.0" width="5.0" height="30.2"/>
<rect class="e" x="1929.2" y="136.0" width="5.0" height="30.2"/>
<rect class="e" x="1921.2" y="96.5" width="21.0" height="5.0"/>
<rect class="e" x="1921.2" y="163.7" width="21.0" height="5.0"/>
<rect class="e" x="2019.2" y="382.4" width="5.0" height="21.3"/>
<rect class="e" x="2019.2" y="408.4" width="5.0" height="21.0"/>
<rect class="e" x="2011.2" y="379.9" width="21.0" height="5.0"/>
<rect class="e" x="2011.2" y="426.9" width="21.0" height="5.0"/>
<rect class="e" x="2109.2" y="421.4" width="5.0" height="19.3"/>
<rect class="e" x="2109.2" y="444.9" width="5.0" height="18.5"/>
<rect class="e" x="2101.2" y="418.9" width="21.0" height="5.0"/>
<rect class="e" x="2101.2" y="460.9" width="21.0" height="5.0"/>
<rect class="e" x="2199.2" y="140.8" width="5.0" height="35.3"/>
<rect class="e" x="2199.2" y="184.0" width="5.0" height="36.0"/>
<rect class="e" x="2191.2" y="138.3" width="21.0" height="5.0"/>
<rect class="e" x="2191.2" y="217.5" width="21.0" height="5.0"/>
<rect class="e" x="2289.2" y="374.3" width="5.0" height="22.2"/>
<rect class="e" x="2289.2" y="401.3" width="5.0" height="21.0"/>
<rect class="e" x="2281.2" y="371.8" width="21.0" height="5.0"/>
<rect class="e" x="2281.2" y="419.8" width="21.0" height="5.0"/>
<rect class="e" x="2379.2" y="372.5" width="5.0" height="21.0"/>
<rect class="e" x="2379.2" y="398.1" width="5.0" height="21.0"/>
<rect class="e" x="2371.2" y="370.0" width="21.0" height="5.0"/>
<rect class="e" x="2371.2" y="416.6" width="21.0" height="5.0"/>
<rect class="e" x="2469.2" y="372.5" width="5.0" height="21.0"/>
<rect class="e" x="2469.2" y="398.1" width="5.0" height="21.0"/>
<rect class="e" x="2461.2" y="370.0" width="21.0" height="5.0"/>
<rect class="e" x="2461.2" y="416.6" width="21.0" height="5.0"/>
<rect class="e" x="2559.2" y="253.4" width="5.0" height="26.9"/>
<rect class="e" x="2559.2" y="286.2" width="5.0" height="26.2"/>
<rect class="e" x="2551.2" y="250.9" width="21.0" height="5.0"/>
<rect class="e" x="2551.2" y="309.9" width="21.0" height="5.0"/>
<rect class="e" x="2649.2" y="198.7" width="5.0" height="65.3"/>
<rect class="e" x="2649.2" y="278.5" width="5.0" height="65.0"/>
<rect class="e" x="2641.2" y="196.2" width="21.0" height="5.0"/>
<rect class="e" x="2641.2" y="341.0" width="21.0" height="5.0"/>
<rect class="e" x="2739.2" y="187.6" width="5.0" height="90.5"/>
<rect class="e" x="2739.2" y="298.2" width="5.0" height="91.1"/>
<rect class="e" x="2731.2" y="185.1" width="21.0" height="5.0"/>
<rect class="e" x="2731.2" y="386.8" width="21.0" height="5.0"/>
<rect class="e" x="2829.2" y="264.6" width="5.0" height="78.6"/>
<rect class="e" x="2829.2" y="360.5" width="5.0" height="76.9"/>
<rect class="e" x="2821.2" y="262.1" width="21.0" height="5.0"/>
<rect class="e" x="2821.2" y="434.9" width="21.0" height="5.0"/>
<rect class="e" x="2919.2" y="267.6" width="5.0" height="77.6"/>
<rect class="e" x="2919.2" y="362.7" width="5.0" height="79.8"/>
<rect class="e" x="2911.2" y="265.1" width="21.0" height="5.0"/>
<rect class="e" x="2911.2" y="440.0" width="21.0" height="5.0"/>
<rect class="e" x="3009.2" y="294.4" width="5.0" height="66.0"/>
<rect class="e" x="3009.2" y="375.2" width="5.0" height="66.4"/>
<rect class="e" x="3001.2" y="291.9" width="21.0" height="5.0"/>
<rect class="e" x="3001.2" y="439.0" width="21.0" height="5.0"/>
<rect class="e" x="3099.2" y="283.4" width="5.0" height="46.5"/>
<rect class="e" x="3099.2" y="340.1" width="5.0" height="44.5"/>
<rect class="e" x="3091.2" y="280.9" width="21.0" height="5.0"/>
<rect class="e" x="3091.2" y="382.1" width="21.0" height="5.0"/>
<rect class="e" x="3189.2" y="393.6" width="5.0" height="23.9"/>
<rect class="e" x="3189.2" y="422.8" width="5.0" height="24.7"/>
<rect class="e" x="3181.2" y="391.1" width="21.0" height="5.0"/>
<rect class="e" x="3181.2" y="445.0" width="21.0" height="5.0"/>
<rect class="e" x="3279.2" y="420.6" width="5.0" height="17.5"/>
<rect class="e" x="3279.2" y="442.0" width="5.0" height="17.6"/>
<rect class="e" x="3271.2" y="418.1" width="21.0" height="5.0"/>
<rect class="e" x="3271.2" y="457.1" width="21.0" height="5.0"/>
<rect class="e" x="3369.2" y="420.6" width="5.0" height="21.0"/>
<rect class="e" x="3369.2" y="446.2" width="5.0" height="20.5"/>
<rect class="e" x="3361.2" y="418.1" width="21.0" height="5.0"/>
<rect class="e" x="3361.2" y="464.2" width="21.0" height="5.0"/>
<rect class="e" x="3459.2" y="346.3" width="5.0" height="29.4"/>
<rect class="e" x="3459.2" y="382.1" width="5.0" height="28.2"/>
<rect class="e" x="3451.2" y="343.8" width="21.0" height="5.0"/>
<rect class="e" x="3451.2" y="407.9" width="21.0" height="5.0"/>
<rect class="e" x="3549.2" y="364.4" width="5.0" height="29.4"/>
<rect class="e" x="3549.2" y="400.2" width="5.0" height="27.7"/>
<rect class="e" x="3541.2" y="361.9" width="21.0" height="5.0"/>
<rect class="e" x="3541.2" y="425.4" width="21.0" height="5.0"/>
<rect class="e" x="3639.2" y="379.6" width="5.0" height="27.6"/>
<rect class="e" x="3639.2" y="413.3" width="5.0" height="27.9"/>
<rect class="e" x="3631.2" y="377.1" width="21.0" height="5.0"/>
<rect class="e" x="3631.2" y="438.7" width="21.0" height="5.0"/>
<rect class="e" x="3729.2" y="367.4" width="5.0" height="23.0"/>
<rect class="e" x="3729.2" y="395.4" width="5.0" height="21.8"/>
<rect class="e" x="3721.2" y="364.9" width="21.0" height="5.0"/>
<rect class="e" x="3721.2" y="414.8" width="21.0" height="5.0"/>
<rect class="e" x="3819.2" y="396.4" width="5.0" height="19.7"/>
<rect class="e" x="3819.2" y="420.2" width="5.0" height="18.0"/>
<rect class="e" x="3811.2" y="393.9" width="21.0" height="5.0"/>
<rect class="e" x="3811.2" y="435.7" width="21.0" height="5.0"/>
<rect class="ax" x="260.0" y="50.4" width="5.0" height="452.5"/>
<rect class="ax" x="220.2" y="497.9" width="42.3" height="5.0"/>
<text class="n" text-anchor="end" x="216.2" y="525.0">0.0</text>
<rect class="ax" x="241.0" y="477.1" width="21.5" height="5.0"/>
<rect class="ax" x="241.0" y="456.3" width="21.5" height="5.0"/>
<rect class="ax" x="241.0" y="435.4" width="21.5" height="5.0"/>
<rect class="ax" x="241.0" y="414.6" width="21.5" height="5.0"/>
<rect class="ax" x="220.2" y="393.8" width="42.3" height="5.0"/>
<text class="n" text-anchor="end" x="216.2" y="420.9">1.0</text>
<rect class="ax" x="241.0" y="373.0" width="21.5" height="5.0"/>
<rect class="ax" x="241.0" y="352.1" width="21.5" height="5.0"/>
<rect class="ax" x="241.0" y="331.3" width="21.5" height="5.0"/>
<rect class="ax" x="241.0" y="310.5" width="21.5" height="5.0"/>
<rect class="ax" x="220.2" y="289.7" width="42.3" height="5.0"/>
<text class="n" text-anchor="end" x="216.2" y="316.8">2.0</text>
<rect class="ax" x="241.0" y="268.8" width="21.5" height="5.0"/>
<rect class="ax" x="241.0" y="248.0" width="21.5" height="5.0"/>
<rect class="ax" x="241.0" y="227.2" width="21.5" height="5.0"/>
<rect class="ax" x="241.0" y="206.4" width="21.5" height="5.0"/>
<rect class="ax" x="220.2" y="185.5" width="42.3" height="5.0"/>
<text class="n" text-anchor="end" x="216.2" y="212.6">3.0</text>
<rect class="ax" x="241.0" y="164.7" width="21.5" height="5.0"/>
<rect class="ax" x="241.0" y="143.9" width="21.5" height="5.0"/>
<rect class="ax" x="241.0" y="123.1" width="21.5" height="5.0"/>
<rect class="ax" x="241.0" y="102.2" width="21.5" height="5.0"/>
<rect class="ax" x="220.2" y="81.4" width="42.3" height="5.0"/>
<text class="n" text-anchor="end" x="216.2" y="108.5">4.0</text>
<rect class="ax" x="241.0" y="60.6" width="21.5" height="5.0"/>
<text class="yl" text-anchor="middle" transform="translate(99.3 276.3) rotate(-90)">bits</text>
<rect class="ax" x="266.7" y="497.9" width="3600.0" height="5.0"/>
<rect class="ax" x="309.2" y="500.4" width="5.0" height="10.5"/>
<rect class="ax" x="399.2" y="500.4" width="5.0" height="10.5"/>
<rect class="ax" x="489.2" y="500.4" width="5.0" height="10.5"/>
<rect class="ax" x="579.2" y="500.4" width="5.0" height="10.5"/>
<rect class="ax" x="669.2" y="500.4" width="5.0" height="21.5"/>
<text class="n" text-anchor="middle" x="671.7" y="588.8">5</text>
<rect class="ax" x="759.2" y="500.4" width="5.0" height="10.5"/>
<rect class="ax" x="849.2" y="500.4" width="5.0" height="10.5"/>
<rect class="ax" x="939.2" y="500.4" width="5.0" height="10.5"/>
<rect class="ax" x="1029.2" y="500.4" width="5.0" height="10.5"/>
<rect class="ax" x="1119.2" y="500.4" width="5.0" height="21.5"/>
<text class="n" text-anchor="middle" x="1121.7" y="588.8">10</text>
<rect class="ax" x="1209.2" y="500.4" width="5.0" height="10.5"/>
<rect class="ax" x="1299.2" y="500.4" width="5.0" height="10.5"/>
<rect class="ax" x="1389.2" y="500.4" width="5.0" height="10.5"/>
<rect class="ax" x="1479.2" y="500.4" width="5.0" height="10.5"/>
<rect class="ax" x="1569.2" y="500.4" width="5.0" height="21.5"/>
<text class="n" text-anchor="middle" x="1571.7" y="588.8">15</text>
<rect class="ax" x="1659.2" y="500.4" width="5.0" height="10.5"/>
<rect class="ax" x="1749.2" y="500.4" width="5.0" height="10.5"/>
<rect class="ax" x="1839.2" y="500.4" width="5.0" height="10.5"/>
<rect class="ax" x="1929.2" y="500.4" width="5.0" height="10.5"/>
<rect class="ax" x="2019.2" y="500.4" width="5.0" height="21.5"/>
<text class="n" text-anchor="middle" x="2021.7" y="588.8">20</text>
<rect class="ax" x="2109.2" y="500.4" width="5.0" height="10.5"/>
<rect class="ax" x="2199.2" y="500.4" width="5.0" height="10.5"/>
<rect class="ax" x="2289.2" y="500.4" width="5.0" height="10.5"/>
<rect class="ax" x="2379.2" y="500.4" width="5.0" height="10.5"/>
<rect class="ax" x="2469.2" y="500.4" width="5.0" height="21.5"/>
<text class="n" text-anchor="middle" x="2471.7" y="588.8">25</text>
<rect class="ax" x="2559.2" y="500.4" width="5.0" height="10.5"/>
<rect class="ax" x="2649.2" y="500.4" width="5.0" height="10.5"/>
<rect class="ax" x="2739.2" y="500.4" width="5.0" height="10.5"/>
<rect class="ax" x="2829.2" y="500.4" width="5.0" height="10.5"/>
<rect class="ax" x="2919.2" y="500.4" width="5.0" height="21.5"/>
<text class="n" text-anchor="middle" x="2921.7" y="588.8">30</text>
<rect class="ax" x="3009.2" y="500.4" width="5.0" height="10.5"/>
<rect class="ax" x="3099.2" y="500.4" width="5.0" height="10.5"/>
<rect class="ax" x="3189.2" y="500.4" width="5.0" height="10.5"/>
<rect class="ax" x="3279.2" y="500.4" width="5.0" height="10.5"/>
<rect class="ax" x="3369.2" y="500.4" width="5.0" height="21.5"/>
<text class="n" text-anchor="middle" x="3371.7" y="588.8">35</text>
<rect class="ax" x="3459.2" y="500.4" width="5.0" height="10.5"/>
<rect class="ax" x="3549.2" y="500.4" width="5.0" height="10.5"/>
<rect class="ax" x="3639.2" y="500.4" width="5.0" height="10.5"/>
<rect class="ax" x="3729.2" y="500.4" width="5.0" height="10.5"/>
<rect class="ax" x="3819.2" y="500.4" width="5.0" height="21.5"/>
<text class="n" text-anchor="middle" x="3821.7" y="588.8">40</text></g>
<g><text class="i k" transform="matrix(2.2234 0 0 0.71109 335.06 978.49)" stroke="#fff" stroke-width="4.00">I</text>
<text class="i k" transform="matrix(1.8111 0 0 0.06048 437.41 1037.42)" stroke="#000" stroke-width="4.13" stroke-linejoin="round">I</text>
<text class="i k" transform="matrix(2.1925 0 0 0.42144 515.99 1030.92)" stroke="#fff" stroke-width="4.00">I</text>
<text class="i k" transform="matrix(0.1238 0 0 1.19083 847.96 1010.62)" stroke="#fff" stroke-width="4.00">I</text>
<text class="i k" transform="matrix(1.4604 0 0 0.03775 897.92 1053.78)" stroke="#000" stroke-width="13.24" stroke-linejoin="round">I</text>
<text class="i k" transform="matrix(2.1220 0 0 0.21507 1598.10 1010.87)" stroke="#fff" stroke-width="1.92">I</text>
<text class="i k" transform="matrix(0.5689 0 0 0.01417 2094.62 1057.46)" stroke="#000" stroke-width="35.28" stroke-linejoin="round">I</text>
<text class="i k" transform="matrix(1.0575 0 0 0.12684 2169.99 1051.18)" stroke="#fff" stroke-width="0.11">I</text>
<text class="i k" transform="matrix(0.2416 0 0 0.27562 2284.43 1059.63)" stroke="#fff" stroke-width="3.10">I</text>
<text class="i k" transform="matrix(1.8919 0 0 0.11149 3494.99 1036.67)" stroke="#000" stroke-width="2.24" stroke-linejoin="round">I</text>
<text class="s g" transform="matrix(1.3656 0 0 0.12937 263.89 1019.81)">P</text>
<text class="s b" transform="matrix(1.2520 0 0 0.08503 266.49 1029.95)" stroke="#00f" stroke-width="2.94" stroke-linejoin="round">N</text>
<text class="s b" transform="matrix(1.1054 0 0 0.04705 268.57 1037.61)" stroke="#00f" stroke-width="5.31" stroke-linejoin="round">K</text>
<text class="s b" transform="matrix(1.1647 0 0 0.04976 268.16 1045.45)" stroke="#00f" stroke-width="5.02" stroke-linejoin="round">D</text>
<text class="s b" transform="matrix(1.0369 0 0 0.02713 275.64 1051.86)" stroke="#00f" stroke-width="18.43" stroke-linejoin="round">E</text>
<text class="s k" transform="matrix(0.7731 0 0 0.01444 285.88 1057.52)" stroke="#000" stroke-width="34.63" stroke-linejoin="round">V</text>
<text class="s k" transform="matrix(1.2315 0 0 0.57706 360.60 1020.93)">V</text>
<text class="s k" transform="matrix(1.5678 0 0 0.20263 350.95 1039.04)">L</text>
<text class="s g" transform="matrix(1.1992 0 0 0.15650 358.45 1053.97)">A</text>
<text class="s k" transform="matrix(1.0772 0 0 0.05247 356.80 1061.88)" stroke="#000" stroke-width="4.76" stroke-linejoin="round">M</text>
<text class="f k" transform="matrix(1.2390 0 0 0.02561 362.52 1068.28)" stroke="#000" stroke-width="19.53" stroke-linejoin="round">F</text>
<text class="s g" transform="matrix(0.7035 0 0 0.00901 380.16 1073.57)" stroke="#008000" stroke-width="55.48" stroke-linejoin="round">T</text>
<text class="s g" transform="matrix(1.3631 0 0 0.30573 450.00 1019.81)">T</text>
<text class="s k" transform="matrix(1.1662 0 0 0.07147 452.77 1029.02)" stroke="#000" stroke-width="3.50" stroke-linejoin="round">V</text>
<text class="s b" transform="matrix(1.1428 0 0 0.04434 447.11 1044.89)" stroke="#00f" stroke-width="5.64" stroke-linejoin="round">K</text>
<text class="s k" transform="matrix(1.2320 0 0 0.03615 451.81 1051.92)" stroke="#000" stroke-width="13.83" stroke-linejoin="round">L</text>
<text class="s k" transform="matrix(1.5459 0 0 1.62168 531.66 999.84)">L</text>
<text class="f k" transform="matrix(1.7471 0 0 0.20147 526.47 1048.93)">F</text>
<text class="s k" transform="matrix(1.2143 0 0 0.18363 541.17 1065.73)">V</text>
<text class="s k" transform="matrix(1.0792 0 0 0.06963 536.72 1074.82)" stroke="#000" stroke-width="3.59" stroke-linejoin="round">M</text>
<text class="s b" transform="matrix(1.2339 0 0 0.36000 623.56 999.84)">K</text>
<text class="s b" transform="matrix(1.1472 0 0 0.19330 627.11 1017.50)">Q</text>
<text class="s b" transform="matrix(1.1945 0 0 0.07689 625.76 1030.89)" stroke="#00f" stroke-width="3.25" stroke-linejoin="round">R</text>
<text class="s g" transform="matrix(1.2946 0 0 0.09317 632.10 1041.71)" stroke="#008000" stroke-width="2.68" stroke-linejoin="round">T</text>
<text class="s k" transform="matrix(1.4637 0 0 0.07961 624.32 1051.61)" stroke="#000" stroke-width="3.14" stroke-linejoin="round">L</text>
<text class="s b" transform="matrix(1.3192 0 0 0.05790 625.84 1060.01)" stroke="#00f" stroke-width="4.32" stroke-linejoin="round">E</text>
<text class="s k" transform="matrix(0.7801 0 0 0.01357 645.65 1065.48)" stroke="#000" stroke-width="36.85" stroke-linejoin="round">V</text>
<text class="s g" transform="matrix(0.5866 0 0 0.00727 650.53 1070.65)" stroke="#008000" stroke-width="68.80" stroke-linejoin="round">A</text>
<text class="s b" transform="matrix(1.3362 0 0 0.21348 711.75 1006.93)">D</text>
<text class="s b" transform="matrix(1.3939 0 0 0.15650 711.37 1021.87)">N</text>
<text class="s g" transform="matrix(1.2144 0 0 0.12571 715.71 1034.81)">G</text>
<text class="s k" transform="matrix(1.2130 0 0 0.11217 721.21 1046.94)" stroke="#000" stroke-width="2.23" stroke-linejoin="round">V</text>
<text class="s g" transform="matrix(1.3107 0 0 0.06875 721.60 1056.09)" stroke="#008000" stroke-width="3.64" stroke-linejoin="round">T</text>
<text class="s k" transform="matrix(0.6822 0 0 0.00727 739.60 1061.13)" stroke="#000" stroke-width="68.80" stroke-linejoin="round">L</text>
<text class="s b" transform="matrix(0.9129 0 0 0.01987 726.07 1066.85)" stroke="#00f" stroke-width="25.17" stroke-linejoin="round">K</text>
<text class="s k" transform="matrix(0.0873 0 0 0.26503 848.84 1030.64)">L</text>
<text class="s k" transform="matrix(0.0641 0 0 0.29217 849.00 1054.91)">M</text>
<text class="s k" transform="matrix(0.0686 0 0 0.28490 849.38 1078.67)">V</text>
<text class="s g" transform="matrix(1.3788 0 0 0.49024 893.43 1011.60)">P</text>
<text class="s g" transform="matrix(1.3024 0 0 0.15735 898.90 1026.75)">S</text>
<text class="s k" transform="matrix(1.4449 0 0 0.09317 894.92 1037.61)" stroke="#000" stroke-width="2.68" stroke-linejoin="round">L</text>
<text class="s b" transform="matrix(1.3061 0 0 0.06875 896.29 1046.75)" stroke="#00f" stroke-width="3.64" stroke-linejoin="round">E</text>
<text class="s b" transform="matrix(1.3301 0 0 0.28403 981.98 994.61)">D</text>
<text class="s g" transform="matrix(1.3616 0 0 0.18635 986.96 1011.79)">S</text>
<text class="s b" transform="matrix(1.3876 0 0 0.15650 981.60 1026.91)">N</text>
<text class="s b" transform="matrix(1.2628 0 0 0.14293 982.43 1040.91)">K</text>
<text class="s g" transform="matrix(1.2089 0 0 0.12571 985.92 1053.85)">G</text>
<text class="s b" transform="matrix(1.1954 0 0 0.05247 985.73 1061.88)" stroke="#00f" stroke-width="4.76" stroke-linejoin="round">R</text>
<text class="s b" transform="matrix(0.7985 0 0 0.01085 1003.93 1067.16)" stroke="#00f" stroke-width="46.06" stroke-linejoin="round">E</text>
<text class="s g" transform="matrix(0.8723 0 0 0.01444 1005.00 1072.82)" stroke="#008000" stroke-width="34.63" stroke-linejoin="round">T</text>
<text class="s g" transform="matrix(1.2033 0 0 2.46963 1076.13 1015.53)">G</text>
<text class="s b" transform="matrix(1.3241 0 0 0.19991 1072.21 1035.87)">D</text>
<text class="s b" transform="matrix(1.4474 0 0 0.15650 1071.38 1050.80)">E</text>
<text class="s b" transform="matrix(1.2570 0 0 0.16193 1072.66 1066.11)">K</text>
<text class="s b" transform="matrix(0.9160 0 0 0.01987 1086.47 1071.89)" stroke="#00f" stroke-width="25.17" stroke-linejoin="round">R</text>
<text class="s b" transform="matrix(0.0217 0 0 0.87581 1210.82 1008.25)" stroke="#00f" stroke-width="27.69" stroke-linejoin="round">K</text>
<text class="s k" transform="matrix(0.0273 0 0 0.60653 1210.78 1072.94)" stroke="#000" stroke-width="21.99" stroke-linejoin="round">L</text>
<text class="s b" transform="matrix(1.2570 0 0 0.21891 1252.66 1009.17)">K</text>
<text class="s b" transform="matrix(1.2792 0 0 0.21077 1252.51 1027.84)">R</text>
<text class="s b" transform="matrix(1.3848 0 0 0.09860 1253.56 1038.91)" stroke="#00f" stroke-width="2.54" stroke-linejoin="round">E</text>
<text class="s k" transform="matrix(1.1859 0 0 0.07961 1262.12 1048.81)" stroke="#000" stroke-width="3.14" stroke-linejoin="round">V</text>
<text class="s g" transform="matrix(1.0937 0 0 0.03256 1268.23 1055.59)" stroke="#008000" stroke-width="15.36" stroke-linejoin="round">T</text>
<text class="s b" transform="matrix(0.6240 0 0 0.00727 1278.36 1060.76)" stroke="#00f" stroke-width="68.80" stroke-linejoin="round">D</text>
<text class="s g" transform="matrix(0.5976 0 0 0.00727 1280.13 1064.86)" stroke="#008000" stroke-width="68.80" stroke-linejoin="round">A</text>
<text class="s g" transform="matrix(0.9463 0 0 0.01930 1270.59 1070.56)" stroke="#008000" stroke-width="25.90" stroke-linejoin="round">S</text>
<text class="s k" transform="matrix(1.2429 0 0 0.15650 1350.22 1015.71)">V</text>
<text class="s b" transform="matrix(1.2023 0 0 0.08503 1344.79 1025.85)" stroke="#00f" stroke-width="2.94" stroke-linejoin="round">K</text>
<text class="s b" transform="matrix(1.3624 0 0 0.07147 1344.33 1035.18)" stroke="#00f" stroke-width="3.50" stroke-linejoin="round">E</text>
<text class="s g" transform="matrix(1.1290 0 0 0.05626 1348.94 1043.53)" stroke="#008000" stroke-width="4.44" stroke-linejoin="round">G</text>
<text class="s b" transform="matrix(0.9236 0 0 0.02712 1355.79 1050.02)" stroke="#00f" stroke-width="18.44" stroke-linejoin="round">Q</text>
<text class="s g" transform="matrix(1.0937 0 0 0.03256 1358.23 1057.46)" stroke="#008000" stroke-width="15.36" stroke-linejoin="round">T</text>
<text class="s k" transform="matrix(0.7203 0 0 0.00814 1368.37 1062.68)" stroke="#000" stroke-width="61.41" stroke-linejoin="round">L</text>
<text class="s b" transform="matrix(0.6139 0 0 0.00727 1368.08 1067.85)" stroke="#00f" stroke-width="68.80" stroke-linejoin="round">R</text>
<text class="w k" transform="matrix(0.7793 0 0 6.42977 1438.74 1024.91)">W</text>
<text class="s k" transform="matrix(1.2812 0 0 0.24333 1438.88 1045.95)">Y</text>
<text class="s k" transform="matrix(1.1459 0 0 0.04521 1443.45 1053.35)" stroke="#000" stroke-width="5.53" stroke-linejoin="round">V</text>
<text class="s b" transform="matrix(1.3908 0 0 0.14293 1521.48 1017.01)">N</text>
<text class="s b" transform="matrix(1.2235 0 0 0.11217 1523.96 1029.02)" stroke="#00f" stroke-width="2.23" stroke-linejoin="round">K</text>
<text class="s b" transform="matrix(1.3801 0 0 0.07961 1523.72 1038.91)" stroke="#00f" stroke-width="3.14" stroke-linejoin="round">E</text>
<text class="s g" transform="matrix(0.9398 0 0 0.01846 1540.81 1044.75)" stroke="#008000" stroke-width="27.09" stroke-linejoin="round">S</text>
<text class="s b" transform="matrix(1.0529 0 0 0.03527 1531.20 1051.86)" stroke="#00f" stroke-width="14.17" stroke-linejoin="round">R</text>
<text class="s g" transform="matrix(1.1073 0 0 0.03343 1537.82 1058.82)" stroke="#008000" stroke-width="14.96" stroke-linejoin="round">T</text>
<text class="s k" transform="matrix(1.2429 0 0 1.09801 1620.22 992.75)">V</text>
<text class="s k" transform="matrix(1.5823 0 0 0.21619 1610.48 1029.71)">L</text>
<text class="s g" transform="matrix(1.2103 0 0 0.12937 1618.05 1042.77)">A</text>
<text class="f k" transform="matrix(1.7882 0 0 0.12209 1605.17 1055.84)">F</text>
<text class="s k" transform="matrix(1.1255 0 0 0.11217 1614.79 1067.85)" stroke="#000" stroke-width="2.23" stroke-linejoin="round">M</text>
<text class="s k" transform="matrix(0.9170 0 0 0.01987 1631.04 1073.76)" stroke="#000" stroke-width="25.17" stroke-linejoin="round">Y</text>
<text class="s b" transform="matrix(1.2657 0 0 0.20263 1702.32 1004.88)">K</text>
<text class="s b" transform="matrix(1.3908 0 0 0.15650 1701.48 1019.81)">N</text>
<text class="s b" transform="matrix(1.2881 0 0 0.14293 1702.17 1033.81)">R</text>
<text class="s g" transform="matrix(1.1640 0 0 0.09054 1707.62 1044.43)" stroke="#008000" stroke-width="2.76" stroke-linejoin="round">G</text>
<text class="s b" transform="matrix(1.0332 0 0 0.02171 1715.77 1050.55)" stroke="#00f" stroke-width="23.03" stroke-linejoin="round">E</text>
<text class="s k" transform="matrix(0.9034 0 0 0.01987 1721.54 1056.58)" stroke="#000" stroke-width="25.17" stroke-linejoin="round">V</text>
<text class="s k" transform="matrix(1.5823 0 0 0.70730 1790.48 995.73)">L</text>
<text class="s k" transform="matrix(1.2812 0 0 0.23519 1798.88 1016.08)">Y</text>
<text class="s g" transform="matrix(1.3554 0 0 0.13362 1797.16 1029.58)">S</text>
<text class="s k" transform="matrix(1.1965 0 0 0.09860 1801.76 1040.78)" stroke="#000" stroke-width="2.54" stroke-linejoin="round">V</text>
<text class="w k" transform="matrix(0.7552 0 0 0.07513 1800.07 1050.67)" stroke="#000" stroke-width="3.33" stroke-linejoin="round">W</text>
<text class="s k" transform="matrix(1.1347 0 0 0.04044 1799.92 1057.92)" stroke="#000" stroke-width="6.18" stroke-linejoin="round">C</text>
<text class="f k" transform="matrix(1.2857 0 0 0.02817 1801.05 1064.55)" stroke="#000" stroke-width="17.75" stroke-linejoin="round">F</text>
<text class="s g" transform="matrix(0.5976 0 0 0.00727 1820.13 1069.72)" stroke="#008000" stroke-width="68.80" stroke-linejoin="round">A</text>
<text class="s k" transform="matrix(0.0273 0 0 1.70033 1930.78 1060.91)" stroke="#000" stroke-width="21.99" stroke-linejoin="round">L</text>
<text class="s k" transform="matrix(0.0873 0 0 1.20926 2018.84 1021.31)">L</text>
<text class="s g" transform="matrix(0.0762 0 0 0.36814 2018.92 1050.80)">H</text>
<text class="s b" transform="matrix(0.0706 0 0 0.35816 2018.95 1079.61)">R</text>
<text class="s k" transform="matrix(0.6572 0 0 0.26503 2089.75 1009.17)">V</text>
<text class="s b" transform="matrix(0.6764 0 0 0.13751 2085.67 1022.80)">R</text>
<text class="s g" transform="matrix(0.7166 0 0 0.13626 2088.13 1036.48)">S</text>
<text class="s b" transform="matrix(0.6803 0 0 0.05790 2087.12 1044.89)" stroke="#00f" stroke-width="4.32" stroke-linejoin="round">N</text>
<text class="s k" transform="matrix(0.6556 0 0 0.03527 2090.46 1051.86)" stroke="#000" stroke-width="14.17" stroke-linejoin="round">L</text>
<text class="f k" transform="matrix(0.4120 0 0 0.00851 2098.65 1062.74)" stroke="#000" stroke-width="58.79" stroke-linejoin="round">F</text>
<text class="s k" transform="matrix(0.6686 0 0 0.68017 2179.34 970.90)">Y</text>
<text class="f k" transform="matrix(0.9331 0 0 0.31414 2172.19 997.97)">F</text>
<text class="s g" transform="matrix(0.7488 0 0 0.31930 2175.47 1024.11)">P</text>
<text class="s g" transform="matrix(0.7196 0 0 0.15107 2179.67 1038.67)">T</text>
<text class="s k" transform="matrix(0.7847 0 0 0.09317 2176.28 1061.88)" stroke="#000" stroke-width="2.68" stroke-linejoin="round">L</text>
<text class="s g" transform="matrix(0.3457 0 0 0.00901 2189.21 1067.04)" stroke="#008000" stroke-width="55.48" stroke-linejoin="round">A</text>
<text class="w k" transform="matrix(0.0860 0 0 2.21239 2286.93 954.54)">W</text>
<text class="s g" transform="matrix(0.1524 0 0 0.54993 2286.17 997.04)">H</text>
<text class="s k" transform="matrix(0.1414 0 0 0.53094 2286.94 1037.73)">Y</text>
<text class="s b" transform="matrix(0.1412 0 0 0.23606 2286.24 1079.61)">R</text>
<text class="s g" transform="matrix(0.0247 0 0 1.60487 2380.80 1060.15)" stroke="#008000" stroke-width="24.25" stroke-linejoin="round">P</text>
<text class="s b" transform="matrix(0.0217 0 0 1.62131 2470.82 1057.16)" stroke="#00f" stroke-width="27.69" stroke-linejoin="round">K</text>
<text class="s g" transform="matrix(0.0247 0 0 1.62895 2560.80 1058.92)" stroke="#008000" stroke-width="24.25" stroke-linejoin="round">P</text>
<text class="s b" transform="matrix(0.0217 0 0 1.62131 2650.82 1057.16)" stroke="#00f" stroke-width="27.69" stroke-linejoin="round">K</text>
<text class="s g" transform="matrix(0.0247 0 0 1.67107 2740.80 1059.34)" stroke="#008000" stroke-width="24.25" stroke-linejoin="round">P</text>
<text class="s k" transform="matrix(0.0273 0 0 1.69211 2830.78 1061.00)" stroke="#000" stroke-width="21.99" stroke-linejoin="round">L</text>
<text class="s b" transform="matrix(0.0217 0 0 1.62518 2920.82 1050.20)" stroke="#00f" stroke-width="27.69" stroke-linejoin="round">K</text>
<text class="s g" transform="matrix(0.0247 0 0 1.67107 3010.80 1059.34)" stroke="#008000" stroke-width="24.25" stroke-linejoin="round">P</text>
<text class="s b" transform="matrix(0.0217 0 0 1.67355 3100.82 1056.44)" stroke="#00f" stroke-width="27.69" stroke-linejoin="round">K</text>
<text class="s g" transform="matrix(0.0571 0 0 1.01119 3189.92 1013.84)">T</text>
<text class="s b" transform="matrix(0.0520 0 0 0.39256 3189.64 1045.01)">K</text>
<text class="s g" transform="matrix(0.0594 0 0 0.44227 3189.59 1079.61)">P</text>
<text class="s g" transform="matrix(0.3562 0 0 0.28403 3269.20 1004.88)">P</text>
<text class="s g" transform="matrix(0.3424 0 0 0.21891 3271.20 1024.11)">T</text>
<text class="s b" transform="matrix(0.2428 0 0 0.02713 3272.20 1030.39)" stroke="#00f" stroke-width="18.43" stroke-linejoin="round">K</text>
<text class="s g" transform="matrix(0.2706 0 0 0.03428 3272.78 1037.45)" stroke="#008000" stroke-width="14.59" stroke-linejoin="round">S</text>
<text class="s g" transform="matrix(0.2277 0 0 0.02373 3273.05 1043.81)" stroke="#008000" stroke-width="21.07" stroke-linejoin="round">G</text>
<text class="s b" transform="matrix(0.2869 0 0 0.03527 3271.70 1050.92)" stroke="#00f" stroke-width="14.17" stroke-linejoin="round">E</text>
<text class="s k" transform="matrix(0.2017 0 0 0.01444 3274.94 1056.58)" stroke="#000" stroke-width="34.63" stroke-linejoin="round">V</text>
<text class="s g" transform="matrix(1.3726 0 0 0.13208 3329.71 1020.00)">T</text>
<text class="s b" transform="matrix(1.1999 0 0 0.09046 3324.88 1030.51)" stroke="#00f" stroke-width="2.76" stroke-linejoin="round">K</text>
<text class="s b" transform="matrix(1.2977 0 0 0.07147 3324.84 1039.85)" stroke="#00f" stroke-width="3.50" stroke-linejoin="round">N</text>
<text class="s b" transform="matrix(0.9311 0 0 0.01628 3339.32 1045.51)" stroke="#00f" stroke-width="30.71" stroke-linejoin="round">E</text>
<text class="s k" transform="matrix(0.7568 0 0 0.00901 3347.18 1050.80)" stroke="#000" stroke-width="55.48" stroke-linejoin="round">L</text>
<text class="s b" transform="matrix(1.2541 0 0 0.43326 3412.77 1014.77)">K</text>
<text class="s b" transform="matrix(1.3211 0 0 0.09860 3414.00 1025.85)" stroke="#00f" stroke-width="2.54" stroke-linejoin="round">N</text>
<text class="s b" transform="matrix(1.2096 0 0 0.07147 3415.18 1035.18)" stroke="#00f" stroke-width="3.50" stroke-linejoin="round">R</text>
<text class="s g" transform="matrix(1.2893 0 0 0.06333 3422.26 1043.95)" stroke="#008000" stroke-width="3.95" stroke-linejoin="round">T</text>
<text class="s b" transform="matrix(1.3191 0 0 0.04705 3415.84 1051.61)" stroke="#00f" stroke-width="5.31" stroke-linejoin="round">E</text>
<text class="s g" transform="matrix(0.6198 0 0 0.00706 3441.31 1056.64)" stroke="#008000" stroke-width="70.80" stroke-linejoin="round">S</text>
<text class="s b" transform="matrix(0.6226 0 0 0.00727 3438.41 1060.76)" stroke="#00f" stroke-width="68.80" stroke-linejoin="round">D</text>
<text class="s g" transform="matrix(0.6610 0 0 0.00901 3437.85 1065.73)" stroke="#008000" stroke-width="55.48" stroke-linejoin="round">A</text>
<text class="s b" transform="matrix(1.2645 0 0 0.15107 3503.07 1010.67)">R</text>
<text class="s g" transform="matrix(1.3398 0 0 0.14417 3507.67 1024.90)">S</text>
<text class="s b" transform="matrix(1.1763 0 0 0.06875 3505.80 1045.82)" stroke="#00f" stroke-width="3.64" stroke-linejoin="round">K</text>
<text class="s b" transform="matrix(1.1001 0 0 0.03527 3511.97 1052.79)" stroke="#00f" stroke-width="14.17" stroke-linejoin="round">N</text>
<text class="s k" transform="matrix(0.9779 0 0 0.02985 3519.05 1059.51)" stroke="#000" stroke-width="16.75" stroke-linejoin="round">V</text>
<text class="s g" transform="matrix(0.7019 0 0 0.00901 3530.21 1064.80)" stroke="#008000" stroke-width="55.48" stroke-linejoin="round">T</text>
<text class="s b" transform="matrix(1.2845 0 0 0.20263 3593.69 1011.97)">D</text>
<text class="s g" transform="matrix(1.1674 0 0 0.13889 3597.49 1025.84)">G</text>
<text class="s g" transform="matrix(1.2640 0 0 0.10372 3600.16 1037.51)" stroke="#008000" stroke-width="2.41" stroke-linejoin="round">S</text>
<text class="s b" transform="matrix(1.1395 0 0 0.05519 3597.24 1045.82)" stroke="#00f" stroke-width="4.53" stroke-linejoin="round">K</text>
<text class="s b" transform="matrix(1.2395 0 0 0.05247 3596.94 1053.85)" stroke="#00f" stroke-width="4.76" stroke-linejoin="round">N</text>
<text class="s g" transform="matrix(0.6169 0 0 0.00727 3622.81 1058.89)" stroke="#008000" stroke-width="68.80" stroke-linejoin="round">T</text>
<text class="s b" transform="matrix(0.6307 0 0 0.00727 3619.76 1063.56)" stroke="#00f" stroke-width="68.80" stroke-linejoin="round">E</text>
<text class="s g" transform="matrix(0.6427 0 0 0.00901 3618.51 1068.72)" stroke="#008000" stroke-width="55.48" stroke-linejoin="round">A</text>
<text class="s g" transform="matrix(1.1121 0 0 0.19162 3689.58 1009.92)">G</text>
<text class="s b" transform="matrix(1.2765 0 0 0.18363 3685.61 1026.91)">N</text>
<text class="s b" transform="matrix(1.1676 0 0 0.08503 3688.05 1037.05)" stroke="#00f" stroke-width="2.94" stroke-linejoin="round">D</text>
<text class="s b" transform="matrix(1.2276 0 0 0.04976 3689.02 1044.89)" stroke="#00f" stroke-width="5.02" stroke-linejoin="round">E</text>
<text class="s g" transform="matrix(0.9160 0 0 0.02171 3703.67 1050.92)" stroke="#008000" stroke-width="23.03" stroke-linejoin="round">T</text>
<text class="s g" transform="matrix(0.7670 0 0 0.01318 3706.48 1056.51)" stroke="#008000" stroke-width="37.92" stroke-linejoin="round">S</text>
<text class="s b" transform="matrix(0.5625 0 0 0.00727 3709.73 1061.69)" stroke="#00f" stroke-width="68.80" stroke-linejoin="round">K</text>
<text class="s g" transform="matrix(1.2053 0 0 0.06417 3782.09 1025.78)" stroke="#008000" stroke-width="3.90" stroke-linejoin="round">S</text>
<text class="s g" transform="matrix(1.2272 0 0 0.06604 3784.16 1034.81)" stroke="#008000" stroke-width="3.79" stroke-linejoin="round">T</text>
<text class="s b" transform="matrix(0.9619 0 0 0.03256 3784.16 1041.59)" stroke="#00f" stroke-width="15.36" stroke-linejoin="round">K</text>
<text class="s b" transform="matrix(1.0181 0 0 0.02985 3784.93 1048.31)" stroke="#00f" stroke-width="16.75" stroke-linejoin="round">N</text>
<text class="s b" transform="matrix(0.6158 0 0 0.00727 3800.27 1053.48)" stroke="#00f" stroke-width="68.80" stroke-linejoin="round">E</text>
<text class="s g" transform="matrix(0.5660 0 0 0.00727 3801.27 1057.58)" stroke="#008000" stroke-width="68.80" stroke-linejoin="round">A</text>
<text class="s b" transform="matrix(0.6584 0 0 0.00901 3797.07 1062.74)" stroke="#00f" stroke-width="55.48" stroke-linejoin="round">D</text>
<rect class="e" x="309.2" y="994.7" width="5.0" height="14.6"/>
<rect class="e" x="309.2" y="1012.7" width="5.0" height="16.0"/>
<rect class="e" x="301.2" y="992.2" width="21.0" height="5.0"/>
<rect class="e" x="301.2" y="1026.1" width="21.0" height="5.0"/>
<rect class="e" x="399.2" y="908.4" width="5.0" height="22.2"/>
<rect class="e" x="399.2" y="935.6" width="5.0" height="23.0"/>
<rect class="e" x="391.2" y="905.9" width="21.0" height="5.0"/>
<rect class="e" x="391.2" y="956.1" width="21.0" height="5.0"/>
<rect class="e" x="489.2" y="973.6" width="5.0" height="22.7"/>
<rect class="e" x="489.2" y="1001.4" width="5.0" height="23.2"/>
<rect class="e" x="481.2" y="971.1" width="21.0" height="5.0"/>
<rect class="e" x="481.2" y="1022.0" width="21.0" height="5.0"/>
<rect class="e" x="579.2" y="857.5" width="5.0" height="27.7"/>
<rect class="e" x="579.2" y="891.3" width="5.0" height="27.2"/>
<rect class="e" x="571.2" y="855.0" width="21.0" height="5.0"/>
<rect class="e" x="571.2" y="916.0" width="21.0" height="5.0"/>
<rect class="e" x="669.2" y="952.7" width="5.0" height="20.2"/>
<rect class="e" x="669.2" y="977.3" width="5.0" height="20.2"/>
<rect class="e" x="661.2" y="950.2" width="21.0" height="5.0"/>
<rect class="e" x="661.2" y="995.0" width="21.0" height="5.0"/>
<rect class="e" x="759.2" y="971.3" width="5.0" height="18.8"/>
<rect class="e" x="759.2" y="994.4" width="5.0" height="19.5"/>
<rect class="e" x="751.2" y="968.8" width="21.0" height="5.0"/>
<rect class="e" x="751.2" y="1011.4" width="21.0" height="5.0"/>
<rect class="e" x="849.2" y="859.7" width="5.0" height="67.4"/>
<rect class="e" x="849.2" y="942.1" width="5.0" height="67.5"/>
<rect class="e" x="841.2" y="857.2" width="21.0" height="5.0"/>
<rect class="e" x="841.2" y="1007.1" width="21.0" height="5.0"/>
<rect class="e" x="939.2" y="949.5" width="5.0" height="25.5"/>
<rect class="e" x="939.2" y="980.6" width="5.0" height="24.9"/>
<rect class="e" x="931.2" y="947.0" width="21.0" height="5.0"/>
<rect class="e" x="931.2" y="1003.0" width="21.0" height="5.0"/>
<rect class="e" x="1029.2" y="955.5" width="5.0" height="17.6"/>
<rect class="e" x="1029.2" y="977.0" width="5.0" height="17.3"/>
<rect class="e" x="1021.2" y="953.0" width="21.0" height="5.0"/>
<rect class="e" x="1021.2" y="991.8" width="21.0" height="5.0"/>
<rect class="e" x="1119.2" y="809.7" width="5.0" height="30.1"/>
<rect class="e" x="1119.2" y="846.4" width="5.0" height="30.1"/>
<rect class="e" x="1111.2" y="807.2" width="21.0" height="5.0"/>
<rect class="e" x="1111.2" y="874.0" width="21.0" height="5.0"/>
<rect class="e" x="1209.2" y="849.4" width="5.0" height="77.8"/>
<rect class="e" x="1209.2" y="944.6" width="5.0" height="78.1"/>
<rect class="e" x="1201.2" y="846.9" width="21.0" height="5.0"/>
<rect class="e" x="1201.2" y="1020.2" width="21.0" height="5.0"/>
<rect class="e" x="1299.2" y="972.3" width="5.0" height="19.7"/>
<rect class="e" x="1299.2" y="996.2" width="5.0" height="19.0"/>
<rect class="e" x="1291.2" y="969.8" width="21.0" height="5.0"/>
<rect class="e" x="1291.2" y="1012.7" width="21.0" height="5.0"/>
<rect class="e" x="1389.2" y="984.4" width="5.0" height="18.5"/>
<rect class="e" x="1389.2" y="1007.1" width="5.0" height="19.3"/>
<rect class="e" x="1381.2" y="981.9" width="21.0" height="5.0"/>
<rect class="e" x="1381.2" y="1023.9" width="21.0" height="5.0"/>
<rect class="e" x="1479.2" y="559.0" width="5.0" height="74.6"/>
<rect class="e" x="1471.2" y="590.0" width="21.0" height="5.0"/>
<rect class="e" x="1471.2" y="631.1" width="21.0" height="5.0"/>
<rect class="e" x="1569.2" y="986.6" width="5.0" height="18.5"/>
<rect class="e" x="1569.2" y="1009.3" width="5.0" height="19.0"/>
<rect class="e" x="1561.2" y="984.1" width="21.0" height="5.0"/>
<rect class="e" x="1561.2" y="1025.8" width="21.0" height="5.0"/>
<rect class="e" x="1659.2" y="888.6" width="5.0" height="25.7"/>
<rect class="e" x="1659.2" y="920.1" width="5.0" height="26.4"/>
<rect class="e" x="1651.2" y="886.1" width="21.0" height="5.0"/>
<rect class="e" x="1651.2" y="944.0" width="21.0" height="5.0"/>
<rect class="e" x="1749.2" y="969.5" width="5.0" height="19.3"/>
<rect class="e" x="1749.2" y="993.0" width="5.0" height="18.5"/>
<rect class="e" x="1741.2" y="967.0" width="21.0" height="5.0"/>
<rect class="e" x="1741.2" y="1009.0" width="21.0" height="5.0"/>
<rect class="e" x="1839.2" y="916.6" width="5.0" height="27.4"/>
<rect class="e" x="1839.2" y="950.1" width="5.0" height="27.2"/>
<rect class="e" x="1831.2" y="914.1" width="21.0" height="5.0"/>
<rect class="e" x="1831.2" y="974.8" width="21.0" height="5.0"/>
<rect class="e" x="1929.2" y="824.4" width="5.0" height="90.7"/>
<rect class="e" x="1929.2" y="935.2" width="5.0" height="89.4"/>
<rect class="e" x="1921.2" y="821.9" width="21.0" height="5.0"/>
<rect class="e" x="1921.2" y="1022.0" width="21.0" height="5.0"/>
<rect class="e" x="2019.2" y="854.7" width="5.0" height="75.1"/>
<rect class="e" x="2019.2" y="946.6" width="5.0" height="76.1"/>
<rect class="e" x="2011.2" y="852.2" width="21.0" height="5.0"/>
<rect class="e" x="2011.2" y="1020.2" width="21.0" height="5.0"/>
<rect class="e" x="2109.2" y="960.5" width="5.0" height="27.4"/>
<rect class="e" x="2109.2" y="994.0" width="5.0" height="27.2"/>
<rect class="e" x="2101.2" y="958.0" width="21.0" height="5.0"/>
<rect class="e" x="2101.2" y="1018.7" width="21.0" height="5.0"/>
<rect class="e" x="2199.2" y="891.4" width="5.0" height="29.4"/>
<rect class="e" x="2199.2" y="927.4" width="5.0" height="29.9"/>
<rect class="e" x="2191.2" y="888.9" width="21.0" height="5.0"/>
<rect class="e" x="2191.2" y="954.8" width="21.0" height="5.0"/>
<rect class="e" x="2289.2" y="711.4" width="5.0" height="73.6"/>
<rect class="e" x="2289.2" y="801.3" width="5.0" height="72.1"/>
<rect class="e" x="2281.2" y="708.9" width="21.0" height="5.0"/>
<rect class="e" x="2281.2" y="870.8" width="21.0" height="5.0"/>
<rect class="e" x="2379.2" y="836.4" width="5.0" height="84.5"/>
<rect class="e" x="2379.2" y="939.5" width="5.0" height="82.8"/>
<rect class="e" x="2371.2" y="833.9" width="21.0" height="5.0"/>
<rect class="e" x="2371.2" y="1019.8" width="21.0" height="5.0"/>
<rect class="e" x="2469.2" y="832.3" width="5.0" height="81.8"/>
<rect class="e" x="2469.2" y="932.1" width="5.0" height="80.3"/>
<rect class="e" x="2461.2" y="829.8" width="21.0" height="5.0"/>
<rect class="e" x="2461.2" y="1009.9" width="21.0" height="5.0"/>
<rect class="e" x="2559.2" y="835.4" width="5.0" height="82.5"/>
<rect class="e" x="2559.2" y="936.2" width="5.0" height="82.2"/>
<rect class="e" x="2551.2" y="832.9" width="21.0" height="5.0"/>
<rect class="e" x="2551.2" y="1015.9" width="21.0" height="5.0"/>
<rect class="e" x="2649.2" y="832.5" width="5.0" height="81.7"/>
<rect class="e" x="2649.2" y="932.1" width="5.0" height="80.3"/>
<rect class="e" x="2641.2" y="830.0" width="21.0" height="5.0"/>
<rect class="e" x="2641.2" y="1009.9" width="21.0" height="5.0"/>
<rect class="e" x="2739.2" y="833.4" width="5.0" height="81.7"/>
<rect class="e" x="2739.2" y="932.9" width="5.0" height="79.5"/>
<rect class="e" x="2731.2" y="830.9" width="21.0" height="5.0"/>
<rect class="e" x="2731.2" y="1009.9" width="21.0" height="5.0"/>
<rect class="e" x="2829.2" y="834.3" width="5.0" height="82.5"/>
<rect class="e" x="2829.2" y="935.0" width="5.0" height="81.5"/>
<rect class="e" x="2821.2" y="831.8" width="21.0" height="5.0"/>
<rect class="e" x="2821.2" y="1014.0" width="21.0" height="5.0"/>
<rect class="e" x="2919.2" y="825.4" width="5.0" height="81.5"/>
<rect class="e" x="2919.2" y="924.8" width="5.0" height="80.5"/>
<rect class="e" x="2911.2" y="822.9" width="21.0" height="5.0"/>
<rect class="e" x="2911.2" y="1002.8" width="21.0" height="5.0"/>
<rect class="e" x="3009.2" y="833.4" width="5.0" height="81.7"/>
<rect class="e" x="3009.2" y="932.9" width="5.0" height="79.5"/>
<rect class="e" x="3001.2" y="830.9" width="21.0" height="5.0"/>
<rect class="e" x="3001.2" y="1009.9" width="21.0" height="5.0"/>
<rect class="e" x="3099.2" y="827.4" width="5.0" height="81.7"/>
<rect class="e" x="3099.2" y="927.1" width="5.0" height="80.3"/>
<rect class="e" x="3091.2" y="824.9" width="21.0" height="5.0"/>
<rect class="e" x="3091.2" y="1004.9" width="21.0" height="5.0"/>
<rect class="e" x="3189.2" y="872.4" width="5.0" height="64.7"/>
<rect class="e" x="3189.2" y="951.4" width="5.0" height="63.8"/>
<rect class="e" x="3181.2" y="869.9" width="21.0" height="5.0"/>
<rect class="e" x="3181.2" y="1012.7" width="21.0" height="5.0"/>
<rect class="e" x="3279.2" y="945.6" width="5.0" height="35.8"/>
<rect class="e" x="3279.2" y="989.4" width="5.0" height="36.1"/>
<rect class="e" x="3271.2" y="943.1" width="21.0" height="5.0"/>
<rect class="e" x="3271.2" y="1023.0" width="21.0" height="5.0"/>
<rect class="e" x="3369.2" y="989.4" width="5.0" height="19.3"/>
<rect class="e" x="3369.2" y="1013.0" width="5.0" height="19.0"/>
<rect class="e" x="3361.2" y="986.9" width="21.0" height="5.0"/>
<rect class="e" x="3361.2" y="1029.5" width="21.0" height="5.0"/>
<rect class="e" x="3459.2" y="960.5" width="5.0" height="22.0"/>
<rect class="e" x="3459.2" y="987.4" width="5.0" height="22.2"/>
<rect class="e" x="3451.2" y="958.0" width="21.0" height="5.0"/>
<rect class="e" x="3451.2" y="1007.1" width="21.0" height="5.0"/>
<rect class="e" x="3549.2" y="979.4" width="5.0" height="18.8"/>
<rect class="e" x="3549.2" y="1002.4" width="5.0" height="19.0"/>
<rect class="e" x="3541.2" y="976.9" width="21.0" height="5.0"/>
<rect class="e" x="3541.2" y="1018.9" width="21.0" height="5.0"/>
<rect class="e" x="3639.2" y="975.4" width="5.0" height="20.3"/>
<rect class="e" x="3639.2" y="1000.2" width="5.0" height="19.2"/>
<rect class="e" x="3631.2" y="972.9" width="21.0" height="5.0"/>
<rect class="e" x="3631.2" y="1016.8" width="21.0" height="5.0"/>
<rect class="e" x="3729.2" y="972.3" width="5.0" height="21.8"/>
<rect class="e" x="3729.2" y="998.6" width="5.0" height="18.8"/>
<rect class="e" x="3721.2" y="969.8" width="21.0" height="5.0"/>
<rect class="e" x="3721.2" y="1014.9" width="21.0" height="5.0"/>
<rect class="e" x="3819.2" y="1001.6" width="5.0" height="17.6"/>
<rect class="e" x="3819.2" y="1023.1" width="5.0" height="17.3"/>
<rect class="e" x="3811.2" y="999.1" width="21.0" height="5.0"/>
<rect class="e" x="3811.2" y="1037.9" width="21.0" height="5.0"/>
<rect class="ax" x="260.0" y="633.7" width="5.0" height="452.5"/>
<rect class="ax" x="220.2" y="1081.2" width="42.3" height="5.0"/>
<text class="n" text-anchor="end" x="216.2" y="1108.3">0.0</text>
<rect class="ax" x="241.0" y="1060.4" width="21.5" height="5.0"/>
<rect class="ax" x="241.0" y="1039.6" width="21.5" height="5.0"/>
<rect class="ax" x="241.0" y="1018.8" width="21.5" height="5.0"/>
<rect class="ax" x="241.0" y="997.9" width="21.5" height="5.0"/>
<rect class="ax" x="220.2" y="977.1" width="42.3" height="5.0"/>
<text class="n" text-anchor="end" x="216.2" y="1004.2">1.0</text>
<rect class="ax" x="241.0" y="956.3" width="21.5" height="5.0"/>
<rect class="ax" x="241.0" y="935.5" width="21.5" height="5.0"/>
<rect class="ax" x="241.0" y="914.6" width="21.5" height="5.0"/>
<rect class="ax" x="241.0" y="893.8" width="21.5" height="5.0"/>
<rect class="ax" x="220.2" y="873.0" width="42.3" height="5.0"/>
<text class="n" text-anchor="end" x="216.2" y="900.1">2.0</text>
<rect class="ax" x="241.0" y="852.2" width="21.5" height="5.0"/>
<rect class="ax" x="241.0" y="831.3" width="21.5" height="5.0"/>
<rect class="ax" x="241.0" y="810.5" width="21.5" height="5.0"/>
<rect class="ax" x="241.0" y="789.7" width="21.5" height="5.0"/>
<rect class="ax" x="220.2" y="768.9" width="42.3" height="5.0"/>
<text class="n" text-anchor="end" x="216.2" y="796.0">3.0</text>
<rect class="ax" x="241.0" y="748.0" width="21.5" height="5.0"/>
<rect class="ax" x="241.0" y="727.2" width="21.5" height="5.0"/>
<rect class="ax" x="241.0" y="706.4" width="21.5" height="5.0"/>
<rect class="ax" x="241.0" y="685.6" width="21.5" height="5.0"/>
<rect class="ax" x="220.2" y="664.8" width="42.3" height="5.0"/>
<text class="n" text-anchor="end" x="216.2" y="691.9">4.0</text>
<rect class="ax" x="241.0" y="643.9" width="21.5" height="5.0"/>
<text class="yl" text-anchor="middle" transform="translate(99.3 859.6) rotate(-90)">bits</text>
<rect class="ax" x="266.7" y="1081.2" width="3600.0" height="5.0"/>
<rect class="ax" x="309.2" y="1083.7" width="5.0" height="10.5"/>
<rect class="ax" x="399.2" y="1083.7" width="5.0" height="10.5"/>
<rect class="ax" x="489.2" y="1083.7" width="5.0" height="10.5"/>
<rect class="ax" x="579.2" y="1083.7" width="5.0" height="10.5"/>
<rect class="ax" x="669.2" y="1083.7" width="5.0" height="21.5"/>
<text class="n" text-anchor="middle" x="671.7" y="1172.1">45</text>
<rect class="ax" x="759.2" y="1083.7" width="5.0" height="10.5"/>
<rect class="ax" x="849.2" y="1083.7" width="5.0" height="10.5"/>
<rect class="ax" x="939.2" y="1083.7" width="5.0" height="10.5"/>
<rect class="ax" x="1029.2" y="1083.7" width="5.0" height="10.5"/>
<rect class="ax" x="1119.2" y="1083.7" width="5.0" height="21.5"/>
<text class="n" text-anchor="middle" x="1121.7" y="1172.1">50</text>
<rect class="ax" x="1209.2" y="1083.7" width="5.0" height="10.5"/>
<rect class="ax" x="1299.2" y="1083.7" width="5.0" height="10.5"/>
<rect class="ax" x="1389.2" y="1083.7" width="5.0" height="10.5"/>
<rect class="ax" x="1479.2" y="1083.7" width="5.0" height="10.5"/>
<rect class="ax" x="1569.2" y="1083.7" width="5.0" height="21.5"/>
<text class="n" text-anchor="middle" x="1571.7" y="1172.1">55</text>
<rect class="ax" x="1659.2" y="1083.7" width="5.0" height="10.5"/>
<rect class="ax" x="1749.2" y="1083.7" width="5.0" height="10.5"/>
<rect class="ax" x="1839.2" y="1083.7" width="5.0" height="10.5"/>
<rect class="ax" x="1929.2" y="1083.7" width="5.0" height="10.5"/>
<rect class="ax" x="2019.2" y="1083.7" width="5.0" height="21.5"/>
<text class="n" text-anchor="middle" x="2021.7" y="1172.1">60</text>
<rect class="ax" x="2109.2" y="1083.7" width="5.0" height="10.5"/>
<rect class="ax" x="2199.2" y="1083.7" width="5.0" height="10.5"/>
<rect class="ax" x="2289.2" y="1083.7" width="5.0" height="10.5"/>
<rect class="ax" x="2379.2" y="1083.7" width="5.0" height="10.5"/>
<rect class="ax" x="2469.2" y="1083.7" width="5.0" height="21.5"/>
<text class="n" text-anchor="middle" x="2471.7" y="1172.1">65</text>
<rect class="ax" x="2559.2" y="1083.7" width="5.0" height="10.5"/>
<rect class="ax" x="2649.2" y="1083.7" width="5.0" height="10.5"/>
<rect class="ax" x="2739.2" y="1083.7" width="5.0" height="10.5"/>
<rect class="ax" x="2829.2" y="1083.7" width="5.0" height="10.5"/>
<rect class="ax" x="2919.2" y="1083.7" width="5.0" height="21.5"/>
<text class="n" text-anchor="middle" x="2921.7" y="1172.1">70</text>
<rect class="ax" x="3009.2" y="1083.7" width="5.0" height="10.5"/>
<rect class="ax" x="3099.2" y="1083.7" width="5.0" height="10.5"/>
<rect class="ax" x="3189.2" y="1083.7" width="5.0" height="10.5"/>
<rect class="ax" x="3279.2" y="1083.7" width="5.0" height="10.5"/>
<rect class="ax" x="3369.2" y="1083.7" width="5.0" height="21.5"/>
<text class="n" text-anchor="middle" x="3371.7" y="1172.1">75</text>
<rect class="ax" x="3459.2" y="1083.7" width="5.0" height="10.5"/>
<rect class="ax" x="3549.2" y="1083.7" width="5.0" height="10.5"/>
<rect class="ax" x="3639.2" y="1083.7" width="5.0" height="10.5"/>
<rect class="ax" x="3729.2" y="1083.7" width="5.0" height="10.5"/>
<rect class="ax" x="3819.2" y="1083.7" width="5.0" height="21.5"/>
<text class="n" text-anchor="middle" x="3821.7" y="1172.1">80</text></g>
<g><text class="i k" transform="matrix(0.3044 0 0 0.33092 572.55 1581.63)" stroke="#fff" stroke-width="4.00">I</text>
<text class="i k" transform="matrix(2.1237 0 0 0.32172 608.05 1573.58)" stroke="#fff" stroke-width="3.97">I</text>
<text class="i k" transform="matrix(2.2595 0 0 0.33394 783.98 1639.51)" stroke="#fff" stroke-width="4.00">I</text>
<text class="i k" transform="matrix(1.8171 0 0 0.05197 1517.23 1635.91)" stroke="#000" stroke-width="4.81" stroke-linejoin="round">I</text>
<text class="i k" transform="matrix(2.2337 0 0 0.60247 1954.75 1644.71)" stroke="#fff" stroke-width="4.00">I</text>
<text class="i k" transform="matrix(1.8272 0 0 0.05481 2146.93 1631.81)" stroke="#000" stroke-width="4.56" stroke-linejoin="round">I</text>
<text class="i k" transform="matrix(0.8663 0 0 0.00941 2445.72 1653.77)" stroke="#000" stroke-width="53.12" stroke-linejoin="round">I</text>
<text class="i k" transform="matrix(1.9182 0 0 0.10673 2504.21 1651.66)" stroke="#000" stroke-width="2.34" stroke-linejoin="round">I</text>
<text class="i k" transform="matrix(2.1535 0 0 0.24347 2587.16 1626.07)" stroke="#fff" stroke-width="2.48">I</text>
<text class="i k" transform="matrix(2.1770 0 0 0.57532 2946.45 1583.99)" stroke="#fff" stroke-width="4.00">I</text>
<text class="i k" transform="matrix(0.3541 0 0 0.00941 3811.06 1662.54)" stroke="#000" stroke-width="53.12" stroke-linejoin="round">I</text>
<text class="s k" transform="matrix(0.1091 0 0 0.37356 308.14 1568.84)">L</text>
<text class="s k" transform="matrix(0.0769 0 0 0.08503 308.47 1578.98)" stroke="#000" stroke-width="2.94" stroke-linejoin="round">M</text>
<text class="s g" transform="matrix(0.0882 0 0 0.06945 308.77 1588.25)" stroke="#008000" stroke-width="3.60" stroke-linejoin="round">S</text>
<text class="s g" transform="matrix(0.0951 0 0 0.22976 308.76 1608.41)">T</text>
<text class="s g" transform="matrix(0.0830 0 0 0.12044 308.53 1620.99)">G</text>
<text class="s b" transform="matrix(0.0953 0 0 0.14293 308.23 1635.11)">N</text>
<text class="s g" transform="matrix(0.0990 0 0 0.14836 308.20 1649.48)">P</text>
<text class="s b" transform="matrix(0.0882 0 0 0.13024 308.28 1662.61)">R</text>
<text class="s b" transform="matrix(0.0341 0 0 0.96705 400.34 1591.12)" stroke="#00f" stroke-width="17.62" stroke-linejoin="round">K</text>
<text class="s g" transform="matrix(0.0326 0 0 0.65918 400.43 1655.90)" stroke="#008000" stroke-width="18.40" stroke-linejoin="round">G</text>
<text class="s g" transform="matrix(0.0635 0 0 1.07360 489.38 1584.33)">H</text>
<text class="s b" transform="matrix(0.0578 0 0 0.51466 489.41 1623.91)">K</text>
<text class="s g" transform="matrix(0.0660 0 0 0.50196 489.36 1662.61)">P</text>
<text class="f k" transform="matrix(0.2425 0 0 0.11697 574.00 1593.67)">F</text>
<text class="s b" transform="matrix(0.1705 0 0 0.14022 575.02 1607.48)">K</text>
<text class="s k" transform="matrix(0.1627 0 0 0.10674 576.24 1619.11)" stroke="#000" stroke-width="2.34" stroke-linejoin="round">V</text>
<text class="s b" transform="matrix(0.1185 0 0 0.01357 577.55 1624.59)" stroke="#00f" stroke-width="36.85" stroke-linejoin="round">E</text>
<text class="s b" transform="matrix(0.1709 0 0 0.04434 575.50 1632.18)" stroke="#00f" stroke-width="5.64" stroke-linejoin="round">N</text>
<text class="s g" transform="matrix(0.1344 0 0 0.02171 577.56 1638.22)" stroke="#008000" stroke-width="23.03" stroke-linejoin="round">T</text>
<text class="s k" transform="matrix(0.1249 0 0 0.01357 577.63 1643.82)" stroke="#000" stroke-width="36.85" stroke-linejoin="round">L</text>
<text class="s b" transform="matrix(0.1397 0 0 0.03256 576.30 1650.72)" stroke="#00f" stroke-width="15.36" stroke-linejoin="round">R</text>
<text class="s g" transform="matrix(0.0895 0 0 0.00791 578.73 1655.94)" stroke="#008000" stroke-width="63.20" stroke-linejoin="round">S</text>
<text class="s b" transform="matrix(0.1305 0 0 0.02529 576.58 1662.36)" stroke="#00f" stroke-width="19.77" stroke-linejoin="round">K</text>
<text class="s k" transform="matrix(1.1772 0 0 0.19177 632.41 1590.31)">V</text>
<text class="s g" transform="matrix(1.3082 0 0 0.15107 624.46 1604.87)">H</text>
<text class="s k" transform="matrix(1.2135 0 0 0.14293 631.14 1618.87)">Y</text>
<text class="f k" transform="matrix(1.5965 0 0 0.09049 621.23 1629.75)" stroke="#000" stroke-width="2.76" stroke-linejoin="round">F</text>
<text class="s k" transform="matrix(0.7643 0 0 0.01628 639.83 1635.42)" stroke="#000" stroke-width="30.71" stroke-linejoin="round">M</text>
<text class="s b" transform="matrix(0.6405 0 0 0.00901 646.69 1640.70)" stroke="#00f" stroke-width="55.48" stroke-linejoin="round">K</text>
<text class="s k" transform="matrix(1.1929 0 0 0.33286 721.83 1565.10)">Y</text>
<text class="w k" transform="matrix(0.7256 0 0 0.23220 721.70 1586.20)">W</text>
<text class="s k" transform="matrix(1.1572 0 0 0.14022 723.07 1600.01)">V</text>
<text class="s b" transform="matrix(1.1349 0 0 0.07961 718.06 1609.78)" stroke="#00f" stroke-width="3.14" stroke-linejoin="round">R</text>
<text class="s g" transform="matrix(1.2279 0 0 0.09317 724.13 1620.61)" stroke="#008000" stroke-width="2.68" stroke-linejoin="round">T</text>
<text class="s b" transform="matrix(0.9597 0 0 0.03527 724.25 1627.58)" stroke="#00f" stroke-width="14.17" stroke-linejoin="round">K</text>
<text class="s k" transform="matrix(0.7079 0 0 0.00901 738.77 1632.86)" stroke="#000" stroke-width="55.48" stroke-linejoin="round">L</text>
<text class="f k" transform="matrix(1.8005 0 0 1.33071 794.78 1542.14)">F</text>
<text class="s k" transform="matrix(1.5932 0 0 0.98406 800.13 1614.01)">L</text>
<text class="s k" transform="matrix(1.1191 0 0 0.07961 805.06 1648.61)" stroke="#000" stroke-width="3.14" stroke-linejoin="round">M</text>
<text class="s k" transform="matrix(0.6768 0 0 0.00901 829.10 1653.77)" stroke="#000" stroke-width="55.48" stroke-linejoin="round">V</text>
<text class="s g" transform="matrix(1.3647 0 0 0.24963 896.85 1571.77)">S</text>
<text class="s g" transform="matrix(1.3885 0 0 0.22705 899.23 1591.80)">T</text>
<text class="s b" transform="matrix(1.4573 0 0 0.21619 891.04 1610.84)">E</text>
<text class="s k" transform="matrix(1.2506 0 0 0.15208 895.66 1625.62)">C</text>
<text class="s k" transform="matrix(1.1664 0 0 0.05247 902.77 1633.67)" stroke="#000" stroke-width="4.76" stroke-linejoin="round">V</text>
<text class="s g" transform="matrix(1.1254 0 0 0.04835 899.08 1641.47)" stroke="#008000" stroke-width="5.17" stroke-linejoin="round">G</text>
<text class="s b" transform="matrix(0.9691 0 0 0.02529 903.88 1647.80)" stroke="#00f" stroke-width="19.77" stroke-linejoin="round">K</text>
<text class="s b" transform="matrix(1.1761 0 0 0.27046 985.81 1590.68)">K</text>
<text class="s g" transform="matrix(1.1259 0 0 0.20481 989.06 1609.15)">G</text>
<text class="s b" transform="matrix(1.1909 0 0 0.10131 987.18 1620.61)" stroke="#00f" stroke-width="2.47" stroke-linejoin="round">D</text>
<text class="s b" transform="matrix(1.2171 0 0 0.06875 987.75 1629.75)" stroke="#00f" stroke-width="3.64" stroke-linejoin="round">N</text>
<text class="s g" transform="matrix(1.0574 0 0 0.05247 993.56 1637.78)" stroke="#008000" stroke-width="4.76" stroke-linejoin="round">A</text>
<text class="s b" transform="matrix(1.0811 0 0 0.03527 994.11 1644.75)" stroke="#00f" stroke-width="14.17" stroke-linejoin="round">E</text>
<text class="s g" transform="matrix(0.8854 0 0 0.01930 1002.59 1650.76)" stroke="#008000" stroke-width="25.90" stroke-linejoin="round">S</text>
<text class="s g" transform="matrix(1.2116 0 0 3.74046 1075.82 1625.85)">G</text>
<text class="s b" transform="matrix(1.3848 0 0 0.08503 1073.56 1639.65)" stroke="#00f" stroke-width="2.94" stroke-linejoin="round">E</text>
<text class="s b" transform="matrix(1.1956 0 0 0.06604 1075.05 1648.61)" stroke="#00f" stroke-width="3.79" stroke-linejoin="round">K</text>
<text class="s b" transform="matrix(0.8549 0 0 0.01357 1090.82 1654.08)" stroke="#00f" stroke-width="36.85" stroke-linejoin="round">N</text>
<text class="s g" transform="matrix(0.7877 0 0 0.01139 1095.80 1659.55)" stroke="#008000" stroke-width="43.88" stroke-linejoin="round">S</text>
<text class="w k" transform="matrix(0.7829 0 0 6.40160 1168.55 1604.74)">W</text>
<text class="f k" transform="matrix(1.7964 0 0 0.27317 1154.91 1628.95)">F</text>
<text class="s k" transform="matrix(1.2486 0 0 0.25961 1170.03 1650.97)">V</text>
<text class="s g" transform="matrix(1.3314 0 0 0.10490 1170.97 1662.48)" stroke="#008000" stroke-width="2.38" stroke-linejoin="round">T</text>
<text class="s b" transform="matrix(1.2801 0 0 0.33286 1251.76 1593.11)">K</text>
<text class="s b" transform="matrix(1.1902 0 0 0.12030 1255.44 1605.67)">Q</text>
<text class="s g" transform="matrix(1.3803 0 0 0.12044 1256.34 1620.62)">S</text>
<text class="s b" transform="matrix(0.6621 0 0 0.00727 1278.67 1625.65)" stroke="#00f" stroke-width="68.80" stroke-linejoin="round">E</text>
<text class="s k" transform="matrix(1.0081 0 0 0.01628 1269.05 1631.31)" stroke="#000" stroke-width="30.71" stroke-linejoin="round">L</text>
<text class="s b" transform="matrix(0.6252 0 0 0.00727 1277.64 1636.48)" stroke="#00f" stroke-width="68.80" stroke-linejoin="round">R</text>
<text class="s g" transform="matrix(0.7231 0 0 0.00901 1279.56 1641.64)" stroke="#008000" stroke-width="55.48" stroke-linejoin="round">T</text>
<text class="s b" transform="matrix(1.3715 0 0 0.06604 1344.02 1616.87)" stroke="#00f" stroke-width="3.79" stroke-linejoin="round">E</text>
<text class="s b" transform="matrix(0.9034 0 0 0.01899 1356.45 1622.72)" stroke="#00f" stroke-width="26.32" stroke-linejoin="round">K</text>
<text class="s b" transform="matrix(0.8721 0 0 0.01628 1358.16 1628.51)" stroke="#00f" stroke-width="30.71" stroke-linejoin="round">R</text>
<text class="s b" transform="matrix(0.6312 0 0 0.00727 1368.09 1633.68)" stroke="#00f" stroke-width="68.80" stroke-linejoin="round">D</text>
<text class="s g" transform="matrix(0.6433 0 0 0.00727 1372.00 1637.78)" stroke="#008000" stroke-width="68.80" stroke-linejoin="round">T</text>
<text class="s b" transform="matrix(0.6438 0 0 0.00727 1368.44 1642.82)" stroke="#00f" stroke-width="68.80" stroke-linejoin="round">N</text>
<text class="s k" transform="matrix(0.6838 0 0 0.00727 1369.55 1646.74)" stroke="#000" stroke-width="68.80" stroke-linejoin="round">L</text>
<text class="f k" transform="matrix(1.7964 0 0 4.97194 1424.91 1628.95)">F</text>
<text class="s k" transform="matrix(1.2054 0 0 0.10900 1437.32 1640.85)" stroke="#000" stroke-width="2.29" stroke-linejoin="round">C</text>
<text class="s k" transform="matrix(0.8494 0 0 0.01628 1453.34 1646.62)" stroke="#000" stroke-width="30.71" stroke-linejoin="round">V</text>
<text class="s k" transform="matrix(1.0665 0 0 0.01987 1447.17 1652.65)" stroke="#000" stroke-width="25.17" stroke-linejoin="round">L</text>
<text class="s k" transform="matrix(1.2515 0 0 0.84296 1529.93 1578.17)">V</text>
<text class="s g" transform="matrix(1.2187 0 0 0.52280 1527.75 1618.31)">A</text>
<text class="s g" transform="matrix(1.3182 0 0 0.07961 1531.37 1628.07)" stroke="#008000" stroke-width="3.14" stroke-linejoin="round">T</text>
<text class="s b" transform="matrix(1.1787 0 0 0.05247 1525.71 1643.94)" stroke="#00f" stroke-width="4.76" stroke-linejoin="round">K</text>
<text class="s k" transform="matrix(0.6807 0 0 0.00727 1549.65 1648.98)" stroke="#000" stroke-width="68.80" stroke-linejoin="round">L</text>
<text class="s b" transform="matrix(1.4707 0 0 0.27860 1610.57 1580.04)">E</text>
<text class="s b" transform="matrix(1.2772 0 0 0.27046 1611.87 1602.81)">K</text>
<text class="s b" transform="matrix(1.2998 0 0 0.22705 1611.72 1622.60)">R</text>
<text class="s b" transform="matrix(1.1291 0 0 0.06954 1617.81 1631.75)" stroke="#00f" stroke-width="3.60" stroke-linejoin="round">Q</text>
<text class="s k" transform="matrix(0.9358 0 0 0.01357 1631.39 1638.59)" stroke="#000" stroke-width="36.85" stroke-linejoin="round">L</text>
<text class="s b" transform="matrix(0.9780 0 0 0.02171 1625.13 1644.75)" stroke="#00f" stroke-width="23.03" stroke-linejoin="round">D</text>
<text class="s g" transform="matrix(0.7052 0 0 0.00876 1638.51 1650.03)" stroke="#008000" stroke-width="57.09" stroke-linejoin="round">S</text>
<text class="s b" transform="matrix(1.3393 0 0 0.63947 1701.64 1565.10)">D</text>
<text class="s b" transform="matrix(1.4640 0 0 0.41426 1700.81 1597.77)">E</text>
<text class="s g" transform="matrix(1.3971 0 0 0.12937 1701.25 1610.84)">H</text>
<text class="s k" transform="matrix(1.2157 0 0 0.11217 1711.12 1622.85)" stroke="#000" stroke-width="2.23" stroke-linejoin="round">V</text>
<text class="s g" transform="matrix(1.1695 0 0 0.07961 1709.52 1632.74)" stroke="#008000" stroke-width="3.14" stroke-linejoin="round">A</text>
<text class="s b" transform="matrix(1.3285 0 0 0.08232 1703.73 1642.82)" stroke="#00f" stroke-width="3.04" stroke-linejoin="round">N</text>
<text class="s g" transform="matrix(1.0646 0 0 0.02900 1716.71 1649.39)" stroke="#008000" stroke-width="17.24" stroke-linejoin="round">S</text>
<text class="s b" transform="matrix(0.6157 0 0 0.00727 1727.66 1654.58)" stroke="#00f" stroke-width="68.80" stroke-linejoin="round">K</text>
<text class="s g" transform="matrix(0.8090 0 0 0.01173 1726.94 1659.56)" stroke="#008000" stroke-width="42.64" stroke-linejoin="round">T</text>
<text class="s b" transform="matrix(1.3971 0 0 1.20655 1791.25 1514.14)">N</text>
<text class="s g" transform="matrix(1.3971 0 0 0.69373 1791.25 1566.04)">H</text>
<text class="s k" transform="matrix(1.2959 0 0 0.63675 1798.38 1614.01)">Y</text>
<text class="s b" transform="matrix(1.2715 0 0 0.15921 1792.09 1629.13)">K</text>
<text class="s g" transform="matrix(1.3192 0 0 0.10636 1798.35 1640.85)" stroke="#008000" stroke-width="2.35" stroke-linejoin="round">S</text>
<text class="s k" transform="matrix(1.1856 0 0 0.06417 1798.05 1649.85)" stroke="#000" stroke-width="3.90" stroke-linejoin="round">C</text>
<text class="s k" transform="matrix(0.9677 0 0 0.03343 1801.36 1656.76)" stroke="#000" stroke-width="14.96" stroke-linejoin="round">M</text>
<text class="s g" transform="matrix(1.3616 0 0 0.77167 1886.96 1567.15)">S</text>
<text class="s b" transform="matrix(1.3876 0 0 0.41969 1881.60 1600.95)">N</text>
<text class="s b" transform="matrix(1.2628 0 0 0.25961 1882.43 1622.97)">K</text>
<text class="s g" transform="matrix(1.2089 0 0 0.17844 1885.92 1639.60)">G</text>
<text class="s b" transform="matrix(1.0308 0 0 0.02171 1895.85 1645.68)" stroke="#00f" stroke-width="23.03" stroke-linejoin="round">E</text>
<text class="s b" transform="matrix(0.6167 0 0 0.00727 1907.97 1650.85)" stroke="#00f" stroke-width="68.80" stroke-linejoin="round">R</text>
<text class="s b" transform="matrix(0.6984 0 0 0.00901 1905.58 1655.64)" stroke="#00f" stroke-width="55.48" stroke-linejoin="round">D</text>
<text class="s k" transform="matrix(1.5750 0 0 2.66087 1970.72 1602.07)">L</text>
<text class="s k" transform="matrix(1.2372 0 0 0.16822 1980.41 1659.25)">V</text>
<text class="s b" transform="matrix(1.2628 0 0 0.60962 2062.43 1586.01)">K</text>
<text class="s g" transform="matrix(1.2089 0 0 0.17317 2065.92 1602.27)">G</text>
<text class="s b" transform="matrix(1.1740 0 0 0.10570 2066.06 1613.99)">Q</text>
<text class="s b" transform="matrix(1.2632 0 0 0.07689 2064.48 1625.65)" stroke="#00f" stroke-width="3.25" stroke-linejoin="round">D</text>
<text class="s b" transform="matrix(1.3687 0 0 0.07147 2064.12 1634.98)" stroke="#00f" stroke-width="3.50" stroke-linejoin="round">E</text>
<text class="s g" transform="matrix(1.0342 0 0 0.02637 2077.71 1641.36)" stroke="#008000" stroke-width="18.96" stroke-linejoin="round">S</text>
<text class="s b" transform="matrix(0.8661 0 0 0.01628 2078.38 1647.18)" stroke="#00f" stroke-width="30.71" stroke-linejoin="round">R</text>
<text class="s g" transform="matrix(0.7133 0 0 0.00901 2089.86 1652.46)" stroke="#008000" stroke-width="55.48" stroke-linejoin="round">T</text>
<text class="s b" transform="matrix(1.4573 0 0 0.14022 2151.04 1588.81)">E</text>
<text class="s g" transform="matrix(1.3908 0 0 0.13208 2151.48 1602.07)">H</text>
<text class="s k" transform="matrix(1.2092 0 0 0.10945 2161.34 1613.89)" stroke="#000" stroke-width="2.28" stroke-linejoin="round">V</text>
<text class="s g" transform="matrix(1.1642 0 0 0.07961 2159.71 1623.78)" stroke="#008000" stroke-width="3.14" stroke-linejoin="round">A</text>
<text class="s k" transform="matrix(0.9115 0 0 0.01899 2171.22 1637.66)" stroke="#000" stroke-width="26.32" stroke-linejoin="round">Y</text>
<text class="s k" transform="matrix(0.7656 0 0 0.00901 2176.90 1642.94)" stroke="#000" stroke-width="55.48" stroke-linejoin="round">L</text>
<text class="s g" transform="matrix(1.2033 0 0 2.80711 2246.13 1600.07)">G</text>
<text class="s b" transform="matrix(1.3812 0 0 0.39527 2241.83 1634.17)">N</text>
<text class="s b" transform="matrix(1.2596 0 0 0.07961 2244.62 1643.94)" stroke="#00f" stroke-width="3.14" stroke-linejoin="round">D</text>
<text class="s b" transform="matrix(1.3689 0 0 0.07777 2244.11 1653.71)" stroke="#00f" stroke-width="3.21" stroke-linejoin="round">E</text>
<text class="s b" transform="matrix(1.3301 0 0 2.90778 2331.98 1584.15)">D</text>
<text class="s g" transform="matrix(1.3876 0 0 0.31387 2331.60 1609.91)">H</text>
<text class="s k" transform="matrix(1.2477 0 0 0.21008 2335.76 1628.74)">C</text>
<text class="s g" transform="matrix(1.1429 0 0 0.06417 2338.42 1637.72)" stroke="#008000" stroke-width="3.90" stroke-linejoin="round">G</text>
<text class="s k" transform="matrix(0.9232 0 0 0.02171 2350.88 1643.82)" stroke="#000" stroke-width="23.03" stroke-linejoin="round">V</text>
<text class="s b" transform="matrix(0.6115 0 0 0.00727 2357.82 1648.98)" stroke="#00f" stroke-width="68.80" stroke-linejoin="round">K</text>
<text class="s k" transform="matrix(0.6172 0 0 0.00727 2361.05 1653.28)" stroke="#000" stroke-width="68.80" stroke-linejoin="round">Y</text>
<text class="s k" transform="matrix(0.6791 0 0 0.00727 2359.70 1657.94)" stroke="#000" stroke-width="68.80" stroke-linejoin="round">L</text>
<text class="s k" transform="matrix(1.2372 0 0 0.47667 2430.41 1566.04)">V</text>
<text class="f k" transform="matrix(1.7800 0 0 0.35255 2415.43 1595.91)">F</text>
<text class="s k" transform="matrix(1.5750 0 0 0.25147 2420.72 1617.37)">L</text>
<text class="s g" transform="matrix(1.3726 0 0 0.21077 2429.71 1636.04)">T</text>
<text class="s k" transform="matrix(1.1711 0 0 0.04434 2432.55 1643.38)" stroke="#000" stroke-width="5.64" stroke-linejoin="round">Y</text>
<text class="s g" transform="matrix(0.6566 0 0 0.00791 2450.11 1648.48)" stroke="#008000" stroke-width="63.20" stroke-linejoin="round">S</text>
<text class="s k" transform="matrix(1.2477 0 0 1.47827 2515.76 1507.66)">C</text>
<text class="s k" transform="matrix(1.5896 0 0 1.20112 2510.25 1595.91)">L</text>
<text class="s k" transform="matrix(1.2486 0 0 0.58520 2520.03 1640.33)">V</text>
<text class="s k" transform="matrix(1.2429 0 0 0.82669 2610.22 1584.15)">V</text>
<text class="s k" transform="matrix(1.5823 0 0 0.25961 2600.48 1606.17)">L</text>
<text class="s b" transform="matrix(1.2095 0 0 0.09860 2604.51 1636.85)" stroke="#00f" stroke-width="2.54" stroke-linejoin="round">K</text>
<text class="s g" transform="matrix(1.0900 0 0 0.03428 2615.88 1643.78)" stroke="#008000" stroke-width="14.59" stroke-linejoin="round">S</text>
<text class="s g" transform="matrix(1.0997 0 0 0.03343 2618.05 1650.78)" stroke="#008000" stroke-width="14.96" stroke-linejoin="round">T</text>
<text class="f k" transform="matrix(1.7882 0 0 4.99243 2685.17 1630.81)">F</text>
<text class="s k" transform="matrix(1.5823 0 0 0.17007 2690.48 1646.68)">L</text>
<text class="s k" transform="matrix(0.8972 0 0 0.01987 2711.74 1652.46)" stroke="#000" stroke-width="25.17" stroke-linejoin="round">V</text>
<text class="s b" transform="matrix(1.4474 0 0 0.92708 2781.38 1573.88)">E</text>
<text class="s b" transform="matrix(1.2570 0 0 0.49566 2782.66 1612.15)">K</text>
<text class="s g" transform="matrix(1.3189 0 0 0.09317 2791.35 1622.85)" stroke="#008000" stroke-width="2.68" stroke-linejoin="round">T</text>
<text class="s b" transform="matrix(1.0571 0 0 0.03408 2790.61 1629.64)" stroke="#00f" stroke-width="7.34" stroke-linejoin="round">Q</text>
<text class="s b" transform="matrix(1.1749 0 0 0.04434 2786.52 1637.78)" stroke="#00f" stroke-width="5.64" stroke-linejoin="round">R</text>
<text class="s b" transform="matrix(0.6756 0 0 0.00814 2807.29 1642.88)" stroke="#00f" stroke-width="61.41" stroke-linejoin="round">N</text>
<text class="s g" transform="matrix(0.9463 0 0 0.01930 2800.59 1648.90)" stroke="#008000" stroke-width="25.90" stroke-linejoin="round">S</text>
<text class="s k" transform="matrix(1.5532 0 0 1.18755 2871.42 1541.77)">L</text>
<text class="s k" transform="matrix(1.2577 0 0 0.98948 2879.66 1614.01)">Y</text>
<text class="s b" transform="matrix(1.2557 0 0 0.15921 2873.41 1629.13)">R</text>
<text class="s k" transform="matrix(1.1021 0 0 0.10403 2875.76 1640.58)" stroke="#000" stroke-width="2.40" stroke-linejoin="round">M</text>
<text class="s g" transform="matrix(1.2325 0 0 0.04249 2877.19 1647.92)" stroke="#008000" stroke-width="5.88" stroke-linejoin="round">H</text>
<text class="s b" transform="matrix(1.4041 0 0 0.21891 2962.89 1602.07)">E</text>
<text class="s b" transform="matrix(1.3400 0 0 0.16193 2963.32 1617.37)">N</text>
<text class="s k" transform="matrix(1.1630 0 0 0.10403 2972.88 1628.82)" stroke="#000" stroke-width="2.40" stroke-linejoin="round">V</text>
<text class="s b" transform="matrix(1.1357 0 0 0.05247 2967.39 1636.85)" stroke="#00f" stroke-width="4.76" stroke-linejoin="round">K</text>
<text class="s g" transform="matrix(0.6888 0 0 0.00901 2990.61 1642.01)" stroke="#008000" stroke-width="55.48" stroke-linejoin="round">T</text>
<text class="s k" transform="matrix(0.0273 0 0 1.69211 3100.78 1644.00)" stroke="#000" stroke-width="21.99" stroke-linejoin="round">L</text>
<text class="s g" transform="matrix(1.1618 0 0 0.35246 3147.70 1589.59)">G</text>
<text class="s b" transform="matrix(1.3336 0 0 0.12937 3143.54 1603.00)">N</text>
<text class="s b" transform="matrix(1.1722 0 0 0.10945 3145.96 1614.82)" stroke="#00f" stroke-width="2.28" stroke-linejoin="round">K</text>
<text class="s b" transform="matrix(1.1850 0 0 0.09317 3146.13 1625.65)" stroke="#00f" stroke-width="2.68" stroke-linejoin="round">R</text>
<text class="s b" transform="matrix(1.2094 0 0 0.07147 3146.49 1634.98)" stroke="#00f" stroke-width="3.50" stroke-linejoin="round">D</text>
<text class="s b" transform="matrix(1.3091 0 0 0.06604 3146.19 1643.94)" stroke="#00f" stroke-width="3.79" stroke-linejoin="round">E</text>
<text class="s g" transform="matrix(1.1931 0 0 0.04308 3152.49 1651.37)" stroke="#008000" stroke-width="5.80" stroke-linejoin="round">S</text>
<text class="s b" transform="matrix(0.5535 0 0 0.00693 3170.17 1656.43)" stroke="#00f" stroke-width="72.18" stroke-linejoin="round">Q</text>
<text class="s b" transform="matrix(1.2910 0 0 0.24333 3236.82 1583.77)">E</text>
<text class="s b" transform="matrix(1.2320 0 0 0.16193 3237.21 1599.08)">N</text>
<text class="s g" transform="matrix(1.2300 0 0 0.15650 3244.07 1614.01)">T</text>
<text class="s b" transform="matrix(1.0765 0 0 0.09317 3239.70 1624.71)" stroke="#00f" stroke-width="2.68" stroke-linejoin="round">K</text>
<text class="s b" transform="matrix(1.1270 0 0 0.08503 3239.57 1634.98)" stroke="#00f" stroke-width="2.94" stroke-linejoin="round">D</text>
<text class="s b" transform="matrix(1.0684 0 0 0.05790 3240.61 1643.38)" stroke="#00f" stroke-width="4.32" stroke-linejoin="round">R</text>
<text class="s g" transform="matrix(0.5541 0 0 0.00706 3263.47 1648.42)" stroke="#008000" stroke-width="70.80" stroke-linejoin="round">S</text>
<text class="s k" transform="matrix(0.5400 0 0 0.00727 3263.66 1652.72)" stroke="#000" stroke-width="68.80" stroke-linejoin="round">V</text>
<text class="s g" transform="matrix(0.0888 0 0 0.45496 3368.95 1584.71)">T</text>
<text class="s b" transform="matrix(0.0809 0 0 0.21077 3368.51 1603.37)">K</text>
<text class="s k" transform="matrix(0.1019 0 0 0.18363 3368.37 1620.17)">L</text>
<text class="s b" transform="matrix(0.0889 0 0 0.14293 3368.46 1634.17)">N</text>
<text class="s g" transform="matrix(0.0872 0 0 0.14680 3368.80 1648.59)">S</text>
<text class="s k" transform="matrix(0.0800 0 0 0.14109 3369.00 1662.61)">V</text>
<text class="s g" transform="matrix(1.2151 0 0 0.52120 3421.77 1595.40)">S</text>
<text class="s b" transform="matrix(1.0747 0 0 0.07961 3419.76 1605.67)" stroke="#00f" stroke-width="3.14" stroke-linejoin="round">K</text>
<text class="s g" transform="matrix(1.1586 0 0 0.06333 3426.25 1614.45)" stroke="#008000" stroke-width="3.95" stroke-linejoin="round">T</text>
<text class="s b" transform="matrix(1.1300 0 0 0.04434 3420.89 1621.91)" stroke="#00f" stroke-width="5.64" stroke-linejoin="round">N</text>
<text class="s g" transform="matrix(1.0021 0 0 0.04835 3423.75 1629.71)" stroke="#008000" stroke-width="5.17" stroke-linejoin="round">G</text>
<text class="s k" transform="matrix(0.8875 0 0 0.01628 3432.96 1635.42)" stroke="#000" stroke-width="30.71" stroke-linejoin="round">L</text>
<text class="s b" transform="matrix(0.8832 0 0 0.01899 3430.98 1641.39)" stroke="#00f" stroke-width="26.32" stroke-linejoin="round">E</text>
<text class="s b" transform="matrix(0.5504 0 0 0.00727 3440.52 1646.56)" stroke="#00f" stroke-width="68.80" stroke-linejoin="round">R</text>
<text class="s b" transform="matrix(0.6233 0 0 0.00901 3438.39 1651.53)" stroke="#00f" stroke-width="55.48" stroke-linejoin="round">D</text>
<text class="s b" transform="matrix(1.0591 0 0 0.06604 3510.37 1604.74)" stroke="#00f" stroke-width="3.79" stroke-linejoin="round">K</text>
<text class="s b" transform="matrix(1.2124 0 0 0.06875 3509.55 1613.89)" stroke="#00f" stroke-width="3.64" stroke-linejoin="round">E</text>
<text class="s k" transform="matrix(1.0640 0 0 0.02985 3517.25 1620.48)" stroke="#000" stroke-width="16.75" stroke-linejoin="round">L</text>
<text class="s b" transform="matrix(1.1178 0 0 0.04162 3511.33 1627.89)" stroke="#00f" stroke-width="6.01" stroke-linejoin="round">N</text>
<text class="s g" transform="matrix(1.1078 0 0 0.04572 3515.29 1635.50)" stroke="#008000" stroke-width="5.47" stroke-linejoin="round">S</text>
<text class="s g" transform="matrix(0.9208 0 0 0.02529 3523.52 1641.82)" stroke="#008000" stroke-width="19.77" stroke-linejoin="round">T</text>
<text class="f k" transform="matrix(1.6032 0 0 1.56373 3591.02 1564.17)">F</text>
<text class="s k" transform="matrix(1.4186 0 0 0.61776 3595.78 1610.84)">L</text>
<text class="s k" transform="matrix(1.1143 0 0 0.12937 3604.50 1623.91)">V</text>
<text class="s g" transform="matrix(1.1756 0 0 0.07961 3599.25 1633.67)" stroke="#008000" stroke-width="3.14" stroke-linejoin="round">H</text>
<text class="s g" transform="matrix(0.8742 0 0 0.03164 3608.59 1640.43)" stroke="#008000" stroke-width="15.80" stroke-linejoin="round">G</text>
<text class="s b" transform="matrix(0.8629 0 0 0.02529 3608.02 1646.86)" stroke="#00f" stroke-width="19.77" stroke-linejoin="round">K</text>
<text class="s k" transform="matrix(0.5229 0 0 0.50652 3714.23 1587.88)">V</text>
<text class="s b" transform="matrix(0.5288 0 0 0.24604 3711.05 1608.97)">K</text>
<text class="s g" transform="matrix(0.5801 0 0 0.17007 3713.93 1624.84)">T</text>
<text class="s b" transform="matrix(0.5143 0 0 0.08503 3711.90 1634.98)" stroke="#00f" stroke-width="2.94" stroke-linejoin="round">R</text>
<text class="s g" transform="matrix(0.2613 0 0 0.00706 3723.08 1640.02)" stroke="#008000" stroke-width="70.80" stroke-linejoin="round">S</text>
<text class="s g" transform="matrix(0.3019 0 0 0.01085 3720.79 1644.56)" stroke="#008000" stroke-width="46.06" stroke-linejoin="round">A</text>
<text class="s b" transform="matrix(0.2735 0 0 0.00727 3722.16 1649.73)" stroke="#00f" stroke-width="68.80" stroke-linejoin="round">E</text>
<text class="s k" transform="matrix(0.3199 0 0 0.00901 3721.32 1653.77)" stroke="#000" stroke-width="55.48" stroke-linejoin="round">L</text>
<text class="f k" transform="matrix(0.7276 0 0 1.52532 3798.68 1543.26)">F</text>
<text class="s k" transform="matrix(0.6438 0 0 1.27438 3800.84 1635.11)">L</text>
<text class="s k" transform="matrix(0.4825 0 0 0.07961 3805.57 1644.88)" stroke="#000" stroke-width="3.14" stroke-linejoin="round">V</text>
<text class="s k" transform="matrix(0.4881 0 0 0.05790 3805.37 1653.28)" stroke="#000" stroke-width="4.32" stroke-linejoin="round">Y</text>
<text class="s k" transform="matrix(0.2382 0 0 0.00727 3811.75 1658.32)" stroke="#000" stroke-width="68.80" stroke-linejoin="round">M</text>
<rect class="e" x="309.2" y="1481.5" width="5.0" height="55.4"/>
<rect class="e" x="309.2" y="1549.4" width="5.0" height="56.3"/>
<rect class="e" x="301.2" y="1479.0" width="21.0" height="5.0"/>
<rect class="e" x="301.2" y="1603.2" width="21.0" height="5.0"/>
<rect class="e" x="399.2" y="1431.5" width="5.0" height="76.1"/>
<rect class="e" x="399.2" y="1524.5" width="5.0" height="75.9"/>
<rect class="e" x="391.2" y="1429.0" width="21.0" height="5.0"/>
<rect class="e" x="391.2" y="1597.9" width="21.0" height="5.0"/>
<rect class="e" x="489.2" y="1434.5" width="5.0" height="68.4"/>
<rect class="e" x="489.2" y="1517.9" width="5.0" height="66.7"/>
<rect class="e" x="481.2" y="1432.0" width="21.0" height="5.0"/>
<rect class="e" x="481.2" y="1582.1" width="21.0" height="5.0"/>
<rect class="e" x="579.2" y="1514.6" width="5.0" height="41.3"/>
<rect class="e" x="579.2" y="1565.0" width="5.0" height="40.7"/>
<rect class="e" x="571.2" y="1512.1" width="21.0" height="5.0"/>
<rect class="e" x="571.2" y="1603.2" width="21.0" height="5.0"/>
<rect class="e" x="669.2" y="1529.5" width="5.0" height="21.2"/>
<rect class="e" x="669.2" y="1555.5" width="5.0" height="21.8"/>
<rect class="e" x="661.2" y="1527.0" width="21.0" height="5.0"/>
<rect class="e" x="661.2" y="1574.8" width="21.0" height="5.0"/>
<rect class="e" x="759.2" y="1515.5" width="5.0" height="24.0"/>
<rect class="e" x="759.2" y="1544.8" width="5.0" height="23.5"/>
<rect class="e" x="751.2" y="1513.0" width="21.0" height="5.0"/>
<rect class="e" x="751.2" y="1565.8" width="21.0" height="5.0"/>
<rect class="e" x="849.2" y="1415.5" width="5.0" height="26.7"/>
<rect class="e" x="849.2" y="1448.1" width="5.0" height="26.4"/>
<rect class="e" x="841.2" y="1413.0" width="21.0" height="5.0"/>
<rect class="e" x="841.2" y="1471.9" width="21.0" height="5.0"/>
<rect class="e" x="939.2" y="1529.5" width="5.0" height="22.3"/>
<rect class="e" x="939.2" y="1556.6" width="5.0" height="20.7"/>
<rect class="e" x="931.2" y="1527.0" width="21.0" height="5.0"/>
<rect class="e" x="931.2" y="1574.8" width="21.0" height="5.0"/>
<rect class="e" x="1029.2" y="1550.6" width="5.0" height="19.3"/>
<rect class="e" x="1029.2" y="1574.2" width="5.0" height="19.0"/>
<rect class="e" x="1021.2" y="1548.1" width="21.0" height="5.0"/>
<rect class="e" x="1021.2" y="1590.7" width="21.0" height="5.0"/>
<rect class="e" x="1119.2" y="1332.1" width="5.0" height="29.3"/>
<rect class="e" x="1119.2" y="1367.9" width="5.0" height="29.2"/>
<rect class="e" x="1111.2" y="1329.6" width="21.0" height="5.0"/>
<rect class="e" x="1111.2" y="1394.7" width="21.0" height="5.0"/>
<rect class="e" x="1209.2" y="1140.5" width="5.0" height="77.3"/>
<rect class="e" x="1201.2" y="1168.7" width="21.0" height="5.0"/>
<rect class="e" x="1201.2" y="1215.3" width="21.0" height="5.0"/>
<rect class="e" x="1299.2" y="1544.4" width="5.0" height="23.2"/>
<rect class="e" x="1299.2" y="1572.7" width="5.0" height="22.7"/>
<rect class="e" x="1291.2" y="1541.9" width="21.0" height="5.0"/>
<rect class="e" x="1291.2" y="1592.9" width="21.0" height="5.0"/>
<rect class="e" x="1389.2" y="1596.7" width="5.0" height="13.9"/>
<rect class="e" x="1389.2" y="1613.8" width="5.0" height="14.6"/>
<rect class="e" x="1381.2" y="1594.2" width="21.0" height="5.0"/>
<rect class="e" x="1381.2" y="1625.9" width="21.0" height="5.0"/>
<rect class="e" x="1479.2" y="1232.0" width="5.0" height="31.0"/>
<rect class="e" x="1479.2" y="1269.9" width="5.0" height="31.1"/>
<rect class="e" x="1471.2" y="1229.5" width="21.0" height="5.0"/>
<rect class="e" x="1471.2" y="1298.6" width="21.0" height="5.0"/>
<rect class="e" x="1569.2" y="1490.5" width="5.0" height="26.7"/>
<rect class="e" x="1569.2" y="1523.1" width="5.0" height="26.5"/>
<rect class="e" x="1561.2" y="1488.0" width="21.0" height="5.0"/>
<rect class="e" x="1561.2" y="1547.2" width="21.0" height="5.0"/>
<rect class="e" x="1659.2" y="1536.6" width="5.0" height="21.8"/>
<rect class="e" x="1659.2" y="1563.1" width="5.0" height="20.2"/>
<rect class="e" x="1651.2" y="1534.1" width="21.0" height="5.0"/>
<rect class="e" x="1651.2" y="1580.8" width="21.0" height="5.0"/>
<rect class="e" x="1749.2" y="1496.5" width="5.0" height="22.2"/>
<rect class="e" x="1749.2" y="1523.6" width="5.0" height="22.0"/>
<rect class="e" x="1741.2" y="1494.0" width="21.0" height="5.0"/>
<rect class="e" x="1741.2" y="1543.1" width="21.0" height="5.0"/>
<rect class="e" x="1839.2" y="1404.4" width="5.0" height="24.0"/>
<rect class="e" x="1839.2" y="1433.7" width="5.0" height="22.7"/>
<rect class="e" x="1831.2" y="1401.9" width="21.0" height="5.0"/>
<rect class="e" x="1831.2" y="1453.8" width="21.0" height="5.0"/>
<rect class="e" x="1929.2" y="1487.5" width="5.0" height="23.2"/>
<rect class="e" x="1929.2" y="1515.9" width="5.0" height="23.5"/>
<rect class="e" x="1921.2" y="1485.0" width="21.0" height="5.0"/>
<rect class="e" x="1921.2" y="1536.9" width="21.0" height="5.0"/>
<rect class="e" x="2019.2" y="1389.5" width="5.0" height="26.5"/>
<rect class="e" x="2019.2" y="1422.0" width="5.0" height="26.5"/>
<rect class="e" x="2011.2" y="1387.0" width="21.0" height="5.0"/>
<rect class="e" x="2011.2" y="1446.0" width="21.0" height="5.0"/>
<rect class="e" x="2109.2" y="1519.4" width="5.0" height="22.2"/>
<rect class="e" x="2109.2" y="1546.6" width="5.0" height="23.0"/>
<rect class="e" x="2101.2" y="1516.9" width="21.0" height="5.0"/>
<rect class="e" x="2101.2" y="1567.1" width="21.0" height="5.0"/>
<rect class="e" x="2199.2" y="1558.4" width="5.0" height="18.6"/>
<rect class="e" x="2199.2" y="1581.3" width="5.0" height="19.2"/>
<rect class="e" x="2191.2" y="1555.9" width="21.0" height="5.0"/>
<rect class="e" x="2191.2" y="1597.9" width="21.0" height="5.0"/>
<rect class="e" x="2289.2" y="1370.9" width="5.0" height="29.8"/>
<rect class="e" x="2289.2" y="1407.4" width="5.0" height="29.9"/>
<rect class="e" x="2281.2" y="1368.4" width="21.0" height="5.0"/>
<rect class="e" x="2281.2" y="1434.8" width="21.0" height="5.0"/>
<rect class="e" x="2379.2" y="1347.8" width="5.0" height="32.7"/>
<rect class="e" x="2379.2" y="1387.7" width="5.0" height="32.6"/>
<rect class="e" x="2371.2" y="1345.3" width="21.0" height="5.0"/>
<rect class="e" x="2371.2" y="1417.8" width="21.0" height="5.0"/>
<rect class="e" x="2469.2" y="1508.6" width="5.0" height="22.2"/>
<rect class="e" x="2469.2" y="1535.6" width="5.0" height="21.0"/>
<rect class="e" x="2461.2" y="1506.1" width="21.0" height="5.0"/>
<rect class="e" x="2461.2" y="1554.1" width="21.0" height="5.0"/>
<rect class="e" x="2559.2" y="1373.9" width="5.0" height="27.5"/>
<rect class="e" x="2559.2" y="1407.5" width="5.0" height="27.9"/>
<rect class="e" x="2551.2" y="1371.4" width="21.0" height="5.0"/>
<rect class="e" x="2551.2" y="1432.9" width="21.0" height="5.0"/>
<rect class="e" x="2649.2" y="1497.4" width="5.0" height="26.9"/>
<rect class="e" x="2649.2" y="1530.0" width="5.0" height="24.4"/>
<rect class="e" x="2641.2" y="1494.9" width="21.0" height="5.0"/>
<rect class="e" x="2641.2" y="1551.8" width="21.0" height="5.0"/>
<rect class="e" x="2739.2" y="1235.7" width="5.0" height="28.0"/>
<rect class="e" x="2739.2" y="1270.2" width="5.0" height="29.8"/>
<rect class="e" x="2731.2" y="1233.2" width="21.0" height="5.0"/>
<rect class="e" x="2731.2" y="1297.5" width="21.0" height="5.0"/>
<rect class="e" x="2829.2" y="1480.6" width="5.0" height="26.5"/>
<rect class="e" x="2829.2" y="1513.1" width="5.0" height="27.2"/>
<rect class="e" x="2821.2" y="1478.1" width="21.0" height="5.0"/>
<rect class="e" x="2821.2" y="1537.8" width="21.0" height="5.0"/>
<rect class="e" x="2919.2" y="1427.4" width="5.0" height="29.4"/>
<rect class="e" x="2919.2" y="1463.3" width="5.0" height="29.1"/>
<rect class="e" x="2911.2" y="1424.9" width="21.0" height="5.0"/>
<rect class="e" x="2911.2" y="1489.9" width="21.0" height="5.0"/>
<rect class="e" x="3009.2" y="1520.4" width="5.0" height="24.2"/>
<rect class="e" x="3009.2" y="1549.9" width="5.0" height="23.5"/>
<rect class="e" x="3001.2" y="1517.9" width="21.0" height="5.0"/>
<rect class="e" x="3001.2" y="1570.9" width="21.0" height="5.0"/>
<rect class="e" x="3099.2" y="1418.4" width="5.0" height="81.5"/>
<rect class="e" x="3099.2" y="1518.0" width="5.0" height="81.5"/>
<rect class="e" x="3091.2" y="1415.9" width="21.0" height="5.0"/>
<rect class="e" x="3091.2" y="1597.0" width="21.0" height="5.0"/>
<rect class="e" x="3189.2" y="1541.6" width="5.0" height="21.0"/>
<rect class="e" x="3189.2" y="1567.1" width="5.0" height="19.3"/>
<rect class="e" x="3181.2" y="1539.1" width="21.0" height="5.0"/>
<rect class="e" x="3181.2" y="1583.9" width="21.0" height="5.0"/>
<rect class="e" x="3279.2" y="1546.5" width="5.0" height="18.5"/>
<rect class="e" x="3279.2" y="1569.1" width="5.0" height="18.5"/>
<rect class="e" x="3271.2" y="1544.0" width="21.0" height="5.0"/>
<rect class="e" x="3271.2" y="1585.1" width="21.0" height="5.0"/>
<rect class="e" x="3369.2" y="1496.5" width="5.0" height="51.2"/>
<rect class="e" x="3369.2" y="1559.0" width="5.0" height="50.4"/>
<rect class="e" x="3361.2" y="1494.0" width="21.0" height="5.0"/>
<rect class="e" x="3361.2" y="1606.9" width="21.0" height="5.0"/>
<rect class="e" x="3459.2" y="1529.5" width="5.0" height="26.5"/>
<rect class="e" x="3459.2" y="1561.9" width="5.0" height="26.4"/>
<rect class="e" x="3451.2" y="1527.0" width="21.0" height="5.0"/>
<rect class="e" x="3451.2" y="1585.8" width="21.0" height="5.0"/>
<rect class="e" x="3549.2" y="1579.5" width="5.0" height="18.5"/>
<rect class="e" x="3549.2" y="1602.0" width="5.0" height="17.3"/>
<rect class="e" x="3541.2" y="1577.0" width="21.0" height="5.0"/>
<rect class="e" x="3541.2" y="1616.8" width="21.0" height="5.0"/>
<rect class="e" x="3639.2" y="1414.5" width="5.0" height="32.1"/>
<rect class="e" x="3639.2" y="1453.6" width="5.0" height="30.7"/>
<rect class="e" x="3631.2" y="1412.0" width="21.0" height="5.0"/>
<rect class="e" x="3631.2" y="1481.8" width="21.0" height="5.0"/>
<rect class="e" x="3729.2" y="1516.4" width="5.0" height="32.9"/>
<rect class="e" x="3729.2" y="1556.6" width="5.0" height="31.8"/>
<rect class="e" x="3721.2" y="1513.9" width="21.0" height="5.0"/>
<rect class="e" x="3721.2" y="1585.8" width="21.0" height="5.0"/>
<rect class="e" x="3819.2" y="1386.7" width="5.0" height="40.8"/>
<rect class="e" x="3819.2" y="1436.6" width="5.0" height="40.8"/>
<rect class="e" x="3811.2" y="1384.2" width="21.0" height="5.0"/>
<rect class="e" x="3811.2" y="1474.9" width="21.0" height="5.0"/>
<rect class="ax" x="260.0" y="1217.1" width="5.0" height="452.5"/>
<rect class="ax" x="220.2" y="1664.6" width="42.3" height="5.0"/>
<text class="n" text-anchor="end" x="216.2" y="1691.7">0.0</text>
<rect class="ax" x="241.0" y="1643.7" width="21.5" height="5.0"/>
<rect class="ax" x="241.0" y="1622.9" width="21.5" height="5.0"/>
<rect class="ax" x="241.0" y="1602.1" width="21.5" height="5.0"/>
<rect class="ax" x="241.0" y="1581.3" width="21.5" height="5.0"/>
<rect class="ax" x="220.2" y="1560.4" width="42.3" height="5.0"/>
<text class="n" text-anchor="end" x="216.2" y="1587.5">1.0</text>
<rect class="ax" x="241.0" y="1539.6" width="21.5" height="5.0"/>
<rect class="ax" x="241.0" y="1518.8" width="21.5" height="5.0"/>
<rect class="ax" x="241.0" y="1498.0" width="21.5" height="5.0"/>
<rect class="ax" x="241.0" y="1477.2" width="21.5" height="5.0"/>
<rect class="ax" x="220.2" y="1456.3" width="42.3" height="5.0"/>
<text class="n" text-anchor="end" x="216.2" y="1483.4">2.0</text>
<rect class="ax" x="241.0" y="1435.5" width="21.5" height="5.0"/>
<rect class="ax" x="241.0" y="1414.7" width="21.5" height="5.0"/>
<rect class="ax" x="241.0" y="1393.9" width="21.5" height="5.0"/>
<rect class="ax" x="241.0" y="1373.0" width="21.5" height="5.0"/>
<rect class="ax" x="220.2" y="1352.2" width="42.3" height="5.0"/>
<text class="n" text-anchor="end" x="216.2" y="1379.3">3.0</text>
<rect class="ax" x="241.0" y="1331.4" width="21.5" height="5.0"/>
<rect class="ax" x="241.0" y="1310.6" width="21.5" height="5.0"/>
<rect class="ax" x="241.0" y="1289.7" width="21.5" height="5.0"/>
<rect class="ax" x="241.0" y="1268.9" width="21.5" height="5.0"/>
<rect class="ax" x="220.2" y="1248.1" width="42.3" height="5.0"/>
<text class="n" text-anchor="end" x="216.2" y="1275.2">4.0</text>
<rect class="ax" x="241.0" y="1227.3" width="21.5" height="5.0"/>
<text class="yl" text-anchor="middle" transform="translate(99.3 1443.0) rotate(-90)">bits</text>
<rect class="ax" x="266.7" y="1664.6" width="3600.0" height="5.0"/>
<rect class="ax" x="309.2" y="1667.1" width="5.0" height="10.5"/>
<rect class="ax" x="399.2" y="1667.1" width="5.0" height="10.5"/>
<rect class="ax" x="489.2" y="1667.1" width="5.0" height="10.5"/>
<rect class="ax" x="579.2" y="1667.1" width="5.0" height="10.5"/>
<rect class="ax" x="669.2" y="1667.1" width="5.0" height="21.5"/>
<text class="n" text-anchor="middle" x="671.7" y="1755.5">85</text>
<rect class="ax" x="759.2" y="1667.1" width="5.0" height="10.5"/>
<rect class="ax" x="849.2" y="1667.1" width="5.0" height="10.5"/>
<rect class="ax" x="939.2" y="1667.1" width="5.0" height="10.5"/>
<rect class="ax" x="1029.2" y="1667.1" width="5.0" height="10.5"/>
<rect class="ax" x="1119.2" y="1667.1" width="5.0" height="21.5"/>
<text class="n" text-anchor="middle" x="1121.7" y="1755.5">90</text>
<rect class="ax" x="1209.2" y="1667.1" width="5.0" height="10.5"/>
<rect class="ax" x="1299.2" y="1667.1" width="5.0" height="10.5"/>
<rect class="ax" x="1389.2" y="1667.1" width="5.0" height="10.5"/>
<rect class="ax" x="1479.2" y="1667.1" width="5.0" height="10.5"/>
<rect class="ax" x="1569.2" y="1667.1" width="5.0" height="21.5"/>
<text class="n" text-anchor="middle" x="1571.7" y="1755.5">95</text>
<rect class="ax" x="1659.2" y="1667.1" width="5.0" height="10.5"/>
<rect class="ax" x="1749.2" y="1667.1" width="5.0" height="10.5"/>
<rect class="ax" x="1839.2" y="1667.1" width="5.0" height="10.5"/>
<rect class="ax" x="1929.2" y="1667.1" width="5.0" height="10.5"/>
<rect class="ax" x="2019.2" y="1667.1" width="5.0" height="21.5"/>
<text class="n" text-anchor="middle" x="2021.7" y="1755.5">100</text>
<rect class="ax" x="2109.2" y="1667.1" width="5.0" height="10.5"/>
<rect class="ax" x="2199.2" y="1667.1" width="5.0" height="10.5"/>
<rect class="ax" x="2289.2" y="1667.1" width="5.0" height="10.5"/>
<rect class="ax" x="2379.2" y="1667.1" width="5.0" height="10.5"/>
<rect class="ax" x="2469.2" y="1667.1" width="5.0" height="21.5"/>
<text class="n" text-anchor="middle" x="2471.7" y="1755.5">105</text>
<rect class="ax" x="2559.2" y="1667.1" width="5.0" height="10.5"/>
<rect class="ax" x="2649.2" y="1667.1" width="5.0" height="10.5"/>
<rect class="ax" x="2739.2" y="1667.1" width="5.0" height="10.5"/>
<rect class="ax" x="2829.2" y="1667.1" width="5.0" height="10.5"/>
<rect class="ax" x="2919.2" y="1667.1" width="5.0" height="21.5"/>
<text class="n" text-anchor="middle" x="2921.7" y="1755.5">110</text>
<rect class="ax" x="3009.2" y="1667.1" width="5.0" height="10.5"/>
<rect class="ax" x="3099.2" y="1667.1" width="5.0" height="10.5"/>
<rect class="ax" x="3189.2" y="1667.1" width="5.0" height="10.5"/>
<rect class="ax" x="3279.2" y="1667.1" width="5.0" height="10.5"/>
<rect class="ax" x="3369.2" y="1667.1" width="5.0" height="21.5"/>
<text class="n" text-anchor="middle" x="3371.7" y="1755.5">115</text>
<rect class="ax" x="3459.2" y="1667.1" width="5.0" height="10.5"/>
<rect class="ax" x="3549.2" y="1667.1" width="5.0" height="10.5"/>
<rect class="ax" x="3639.2" y="1667.1" width="5.0" height="10.5"/>
<rect class="ax" x="3729.2" y="1667.1" width="5.0" height="10.5"/>
<rect class="ax" x="3819.2" y="1667.1" width="5.0" height="21.5"/>
<text class="n" text-anchor="middle" x="3821.7" y="1755.5">120</text></g>
<g><text class="i k" transform="matrix(1.8778 0 0 0.35506 345.42 2209.92)" stroke="#fff" stroke-width="4.00">I</text>
<text class="i k" transform="matrix(0.6337 0 0 0.00759 472.68 2224.02)" stroke="#000" stroke-width="65.87" stroke-linejoin="round">I</text>
<text class="i k" transform="matrix(1.7024 0 0 3.33304 530.67 2179.66)" stroke="#fff" stroke-width="4.00">I</text>
<text class="i k" transform="matrix(1.3929 0 0 0.33998 629.94 2214.75)" stroke="#fff" stroke-width="4.00">I</text>
<text class="s b" transform="matrix(1.0460 0 0 0.09317 270.89 2188.74)" stroke="#00f" stroke-width="2.68" stroke-linejoin="round">K</text>
<text class="s b" transform="matrix(1.1900 0 0 0.08232 270.33 2198.82)" stroke="#00f" stroke-width="3.04" stroke-linejoin="round">E</text>
<text class="s b" transform="matrix(0.7472 0 0 0.01628 282.95 2204.48)" stroke="#00f" stroke-width="30.71" stroke-linejoin="round">R</text>
<text class="s k" transform="matrix(0.8202 0 0 0.02442 284.31 2210.83)" stroke="#000" stroke-width="20.47" stroke-linejoin="round">V</text>
<text class="s k" transform="matrix(0.9465 0 0 0.02171 281.05 2216.99)" stroke="#000" stroke-width="23.03" stroke-linejoin="round">L</text>
<text class="s b" transform="matrix(0.5408 0 0 0.00727 291.47 2222.16)" stroke="#00f" stroke-width="68.80" stroke-linejoin="round">D</text>
<text class="s k" transform="matrix(0.5324 0 0 0.00727 293.88 2227.20)" stroke="#000" stroke-width="68.80" stroke-linejoin="round">Y</text>
<text class="s b" transform="matrix(0.8382 0 0 0.01987 281.42 2232.92)" stroke="#00f" stroke-width="25.17" stroke-linejoin="round">N</text>
<text class="s k" transform="matrix(1.0400 0 0 3.03531 366.98 2183.08)">V</text>
<text class="f k" transform="matrix(1.4963 0 0 0.27573 354.39 2233.48)">F</text>
<text class="s k" transform="matrix(0.9006 0 0 0.04521 364.16 2240.88)" stroke="#000" stroke-width="5.53" stroke-linejoin="round">M</text>
<text class="s g" transform="matrix(1.1431 0 0 0.27589 450.42 2169.08)">H</text>
<text class="s k" transform="matrix(1.3095 0 0 0.18635 449.31 2186.07)">L</text>
<text class="s b" transform="matrix(1.0169 0 0 0.09589 452.59 2196.95)" stroke="#00f" stroke-width="2.61" stroke-linejoin="round">R</text>
<text class="s g" transform="matrix(1.0834 0 0 0.07961 458.55 2206.85)" stroke="#008000" stroke-width="3.14" stroke-linejoin="round">T</text>
<text class="s b" transform="matrix(0.8531 0 0 0.03527 458.41 2213.82)" stroke="#00f" stroke-width="14.17" stroke-linejoin="round">K</text>
<text class="s g" transform="matrix(0.5141 0 0 0.00706 474.78 2218.98)" stroke="#008000" stroke-width="70.80" stroke-linejoin="round">S</text>
<text class="s k" transform="matrix(0.5562 0 0 0.00901 473.12 2229.00)" stroke="#000" stroke-width="55.48" stroke-linejoin="round">V</text>
<text class="s k" transform="matrix(0.9429 0 0 0.37899 550.22 2203.24)">V</text>
<text class="f k" transform="matrix(1.3566 0 0 0.13489 538.81 2217.24)">F</text>
<text class="s k" transform="matrix(0.8484 0 0 0.09317 546.33 2227.94)" stroke="#000" stroke-width="2.68" stroke-linejoin="round">M</text>
<text class="w k" transform="matrix(0.5723 0 0 0.07257 550.15 2237.65)" stroke="#000" stroke-width="3.45" stroke-linejoin="round">W</text>
<text class="s k" transform="matrix(0.6556 0 0 0.01173 560.46 2243.00)" stroke="#000" stroke-width="42.64" stroke-linejoin="round">L</text>
<text class="f k" transform="matrix(1.1099 0 0 2.60079 636.60 2160.87)">F</text>
<text class="s b" transform="matrix(0.7940 0 0 0.34643 641.15 2188.87)">R</text>
<text class="s k" transform="matrix(0.9346 0 0 0.09589 641.43 2224.96)" stroke="#000" stroke-width="2.61" stroke-linejoin="round">L</text>
<text class="s g" transform="matrix(0.6899 0 0 0.03527 650.58 2231.92)" stroke="#008000" stroke-width="14.17" stroke-linejoin="round">T</text>
<text class="s k" transform="matrix(0.6246 0 0 0.03256 650.83 2238.83)" stroke="#000" stroke-width="15.36" stroke-linejoin="round">V</text>
<text class="s k" transform="matrix(0.6434 0 0 0.03343 650.18 2245.80)" stroke="#000" stroke-width="14.96" stroke-linejoin="round">Y</text>
<text class="s b" transform="matrix(0.6676 0 0 1.17670 736.01 2144.06)">R</text>
<text class="s b" transform="matrix(0.6909 0 0 0.72629 735.86 2198.20)">D</text>
<text class="s g" transform="matrix(0.6280 0 0 0.13626 737.90 2211.88)">G</text>
<text class="s b" transform="matrix(0.7250 0 0 0.10674 736.48 2223.65)" stroke="#00f" stroke-width="2.34" stroke-linejoin="round">E</text>
<text class="s b" transform="matrix(0.6149 0 0 0.05790 737.69 2232.05)" stroke="#00f" stroke-width="4.32" stroke-linejoin="round">K</text>
<text class="s b" transform="matrix(0.3321 0 0 0.00727 749.68 2237.09)" stroke="#00f" stroke-width="68.80" stroke-linejoin="round">N</text>
<text class="s g" transform="matrix(0.5280 0 0 0.02458 744.33 2242.97)" stroke="#008000" stroke-width="20.34" stroke-linejoin="round">S</text>
<text class="s b" transform="matrix(0.3323 0 0 0.72629 838.71 2150.97)">K</text>
<text class="s g" transform="matrix(0.3200 0 0 0.46310 840.14 2187.00)">A</text>
<text class="s b" transform="matrix(0.3826 0 0 0.27860 838.37 2210.33)">E</text>
<text class="s b" transform="matrix(0.3382 0 0 0.25147 838.67 2231.80)">R</text>
<text class="s g" transform="matrix(0.1642 0 0 0.00706 846.27 2236.71)" stroke="#008000" stroke-width="70.80" stroke-linejoin="round">S</text>
<text class="s b" transform="matrix(0.1650 0 0 0.00727 845.50 2241.76)" stroke="#00f" stroke-width="68.80" stroke-linejoin="round">D</text>
<text class="s g" transform="matrix(0.2296 0 0 0.01444 844.65 2246.36)" stroke="#008000" stroke-width="34.63" stroke-linejoin="round">T</text>
<text class="s g" transform="matrix(0.0553 0 0 1.42291 939.57 2133.71)">G</text>
<text class="s g" transform="matrix(0.0623 0 0 1.50285 939.62 2244.21)">S</text>
<rect class="e" x="309.2" y="2163.5" width="5.0" height="16.8"/>
<rect class="e" x="309.2" y="2183.9" width="5.0" height="15.1"/>
<rect class="e" x="301.2" y="2161.0" width="21.0" height="5.0"/>
<rect class="e" x="301.2" y="2196.5" width="21.0" height="5.0"/>
<rect class="e" x="399.2" y="1939.1" width="5.0" height="31.7"/>
<rect class="e" x="399.2" y="1977.8" width="5.0" height="31.8"/>
<rect class="e" x="391.2" y="1936.6" width="21.0" height="5.0"/>
<rect class="e" x="391.2" y="2007.0" width="21.0" height="5.0"/>
<rect class="e" x="489.2" y="2122.5" width="5.0" height="24.9"/>
<rect class="e" x="489.2" y="2152.7" width="5.0" height="23.5"/>
<rect class="e" x="481.2" y="2120.0" width="21.0" height="5.0"/>
<rect class="e" x="481.2" y="2173.7" width="21.0" height="5.0"/>
<rect class="e" x="579.2" y="1927.6" width="5.0" height="35.2"/>
<rect class="e" x="579.2" y="1970.7" width="5.0" height="35.6"/>
<rect class="e" x="571.2" y="1925.1" width="21.0" height="5.0"/>
<rect class="e" x="571.2" y="2003.9" width="21.0" height="5.0"/>
<rect class="e" x="669.2" y="1930.9" width="5.0" height="36.3"/>
<rect class="e" x="669.2" y="1975.5" width="5.0" height="37.8"/>
<rect class="e" x="661.2" y="1928.4" width="21.0" height="5.0"/>
<rect class="e" x="661.2" y="2010.8" width="21.0" height="5.0"/>
<rect class="e" x="759.2" y="2025.4" width="5.0" height="33.9"/>
<rect class="e" x="759.2" y="2066.7" width="5.0" height="32.8"/>
<rect class="e" x="751.2" y="2022.9" width="21.0" height="5.0"/>
<rect class="e" x="751.2" y="2097.0" width="21.0" height="5.0"/>
<rect class="e" x="849.2" y="2057.5" width="5.0" height="39.1"/>
<rect class="e" x="849.2" y="2105.1" width="5.0" height="37.3"/>
<rect class="e" x="841.2" y="2055.0" width="21.0" height="5.0"/>
<rect class="e" x="841.2" y="2139.9" width="21.0" height="5.0"/>
<rect class="e" x="939.2" y="1931.5" width="5.0" height="92.5"/>
<rect class="e" x="939.2" y="2044.5" width="5.0" height="91.1"/>
<rect class="e" x="931.2" y="1929.0" width="21.0" height="5.0"/>
<rect class="e" x="931.2" y="2133.0" width="21.0" height="5.0"/>
<rect class="ax" x="260.0" y="1800.4" width="5.0" height="452.5"/>
<rect class="ax" x="220.2" y="2247.9" width="42.3" height="5.0"/>
<text class="n" text-anchor="end" x="216.2" y="2275.0">0.0</text>
<rect class="ax" x="241.0" y="2227.1" width="21.5" height="5.0"/>
<rect class="ax" x="241.0" y="2206.3" width="21.5" height="5.0"/>
<rect class="ax" x="241.0" y="2185.4" width="21.5" height="5.0"/>
<rect class="ax" x="241.0" y="2164.6" width="21.5" height="5.0"/>
<rect class="ax" x="220.2" y="2143.8" width="42.3" height="5.0"/>
<text class="n" text-anchor="end" x="216.2" y="2170.9">1.0</text>
<rect class="ax" x="241.0" y="2123.0" width="21.5" height="5.0"/>
<rect class="ax" x="241.0" y="2102.1" width="21.5" height="5.0"/>
<rect class="ax" x="241.0" y="2081.3" width="21.5" height="5.0"/>
<rect class="ax" x="241.0" y="2060.5" width="21.5" height="5.0"/>
<rect class="ax" x="220.2" y="2039.7" width="42.3" height="5.0"/>
<text class="n" text-anchor="end" x="216.2" y="2066.8">2.0</text>
<rect class="ax" x="241.0" y="2018.8" width="21.5" height="5.0"/>
<rect class="ax" x="241.0" y="1998.0" width="21.5" height="5.0"/>
<rect class="ax" x="241.0" y="1977.2" width="21.5" height="5.0"/>
<rect class="ax" x="241.0" y="1956.4" width="21.5" height="5.0"/>
<rect class="ax" x="220.2" y="1935.5" width="42.3" height="5.0"/>
<text class="n" text-anchor="end" x="216.2" y="1962.6">3.0</text>
<rect class="ax" x="241.0" y="1914.7" width="21.5" height="5.0"/>
<rect class="ax" x="241.0" y="1893.9" width="21.5" height="5.0"/>
<rect class="ax" x="241.0" y="1873.1" width="21.5" height="5.0"/>
<rect class="ax" x="241.0" y="1852.2" width="21.5" height="5.0"/>
<rect class="ax" x="220.2" y="1831.4" width="42.3" height="5.0"/>
<text class="n" text-anchor="end" x="216.2" y="1858.5">4.0</text>
<rect class="ax" x="241.0" y="1810.6" width="21.5" height="5.0"/>
<text class="yl" text-anchor="middle" transform="translate(99.3 2026.3) rotate(-90)">bits</text>
<rect class="ax" x="266.7" y="2247.9" width="720.0" height="5.0"/>
<rect class="ax" x="309.2" y="2250.4" width="5.0" height="10.5"/>
<rect class="ax" x="399.2" y="2250.4" width="5.0" height="10.5"/>
<rect class="ax" x="489.2" y="2250.4" width="5.0" height="10.5"/>
<rect class="ax" x="579.2" y="2250.4" width="5.0" height="10.5"/>
<rect class="ax" x="669.2" y="2250.4" width="5.0" height="21.5"/>
<text class="n" text-anchor="middle" x="671.7" y="2338.8">125</text>
<rect class="ax" x="759.2" y="2250.4" width="5.0" height="10.5"/>
<rect class="ax" x="849.2" y="2250.4" width="5.0" height="10.5"/>
<rect class="ax" x="939.2" y="2250.4" width="5.0" height="10.5"/></g>
<text class="fp" text-anchor="end" x="3866.7" y="2400.0">WebLogo 3.4</text>
</svg></body></html>
